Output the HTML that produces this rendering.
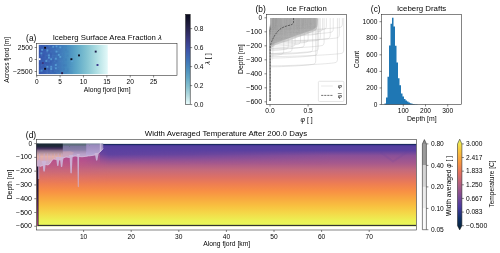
<!DOCTYPE html>
<html><head><meta charset="utf-8"><title>Iceberg figure</title>
<style>
html,body{margin:0;padding:0;background:#fff;}
body{width:500px;height:253px;overflow:hidden;}
svg{display:block;font-family:"Liberation Sans",sans-serif;}
</style></head><body>
<svg width="500" height="253" viewBox="0 0 500 253">
<defs>
<linearGradient id="gIce" x1="0" y1="0" x2="1" y2="0">
<stop offset="0" stop-color="#3556ae"/>
<stop offset="0.12" stop-color="#3a62b4"/>
<stop offset="0.25" stop-color="#3d70b8"/>
<stop offset="0.40" stop-color="#4488be"/>
<stop offset="0.55" stop-color="#5ea8c8"/>
<stop offset="0.70" stop-color="#84c4d2"/>
<stop offset="0.85" stop-color="#b2e0e4"/>
<stop offset="1" stop-color="#e4f9f9"/>
</linearGradient>
<linearGradient id="gIceCB" x1="0" y1="0" x2="0" y2="1">
<stop offset="0" stop-color="#08091c"/>
<stop offset="0.10" stop-color="#1d1b3a"/>
<stop offset="0.20" stop-color="#2f2b5f"/>
<stop offset="0.30" stop-color="#3b3d88"/>
<stop offset="0.40" stop-color="#3e55a9"/>
<stop offset="0.50" stop-color="#3e70b5"/>
<stop offset="0.60" stop-color="#4a8cbc"/>
<stop offset="0.70" stop-color="#62a6c5"/>
<stop offset="0.80" stop-color="#85c0cf"/>
<stop offset="0.90" stop-color="#b5dbe0"/>
<stop offset="1" stop-color="#eafdfd"/>
</linearGradient>
<linearGradient id="gTemp" x1="0" y1="0" x2="0" y2="1">
<stop offset="0" stop-color="#e8fa5b"/>
<stop offset="0.12" stop-color="#f9c73f"/>
<stop offset="0.25" stop-color="#f8993f"/>
<stop offset="0.37" stop-color="#e4705e"/>
<stop offset="0.50" stop-color="#b15f82"/>
<stop offset="0.62" stop-color="#804c93"/>
<stop offset="0.75" stop-color="#47399f"/>
<stop offset="0.87" stop-color="#0f3068"/>
<stop offset="1" stop-color="#042333"/>
</linearGradient>
<linearGradient id="gField" gradientUnits="userSpaceOnUse" x1="0" y1="143.6" x2="0" y2="225.6">
</linearGradient>
</defs>
<rect width="500" height="253" fill="#fff"/>

<rect x="38.8" y="44.9" width="69.00" height="29.20" fill="url(#gIce)"/>
<rect x="38.80" y="44.90" width="1.87" height="1.95" fill="#6aa8d8" opacity="0.14"/>
<rect x="38.80" y="50.74" width="1.87" height="1.95" fill="#2a3c98" opacity="0.05"/>
<rect x="38.80" y="52.69" width="1.87" height="1.95" fill="#2a3c98" opacity="0.09"/>
<rect x="38.80" y="62.42" width="1.87" height="1.95" fill="#2a3c98" opacity="0.16"/>
<rect x="38.80" y="70.21" width="1.87" height="1.95" fill="#6aa8d8" opacity="0.18"/>
<rect x="38.80" y="72.16" width="1.87" height="1.95" fill="#2a3c98" opacity="0.06"/>
<rect x="40.67" y="54.63" width="1.87" height="1.95" fill="#6aa8d8" opacity="0.18"/>
<rect x="40.67" y="60.48" width="1.87" height="1.95" fill="#6aa8d8" opacity="0.07"/>
<rect x="40.67" y="64.37" width="1.87" height="1.95" fill="#6aa8d8" opacity="0.15"/>
<rect x="40.67" y="68.26" width="1.87" height="1.95" fill="#6aa8d8" opacity="0.10"/>
<rect x="42.54" y="54.63" width="1.87" height="1.95" fill="#2a3c98" opacity="0.18"/>
<rect x="42.54" y="62.42" width="1.87" height="1.95" fill="#6aa8d8" opacity="0.17"/>
<rect x="42.54" y="64.37" width="1.87" height="1.95" fill="#2a3c98" opacity="0.06"/>
<rect x="42.54" y="68.26" width="1.87" height="1.95" fill="#6aa8d8" opacity="0.17"/>
<rect x="42.54" y="70.21" width="1.87" height="1.95" fill="#2a3c98" opacity="0.09"/>
<rect x="44.41" y="44.90" width="1.87" height="1.95" fill="#6aa8d8" opacity="0.13"/>
<rect x="44.41" y="48.79" width="1.87" height="1.95" fill="#2a3c98" opacity="0.17"/>
<rect x="44.41" y="54.63" width="1.87" height="1.95" fill="#6aa8d8" opacity="0.05"/>
<rect x="44.41" y="56.58" width="1.87" height="1.95" fill="#6aa8d8" opacity="0.07"/>
<rect x="44.41" y="60.48" width="1.87" height="1.95" fill="#2a3c98" opacity="0.05"/>
<rect x="44.41" y="62.42" width="1.87" height="1.95" fill="#2a3c98" opacity="0.18"/>
<rect x="44.41" y="64.37" width="1.87" height="1.95" fill="#6aa8d8" opacity="0.11"/>
<rect x="46.28" y="48.79" width="1.87" height="1.95" fill="#6aa8d8" opacity="0.14"/>
<rect x="46.28" y="50.74" width="1.87" height="1.95" fill="#6aa8d8" opacity="0.18"/>
<rect x="46.28" y="54.63" width="1.87" height="1.95" fill="#6aa8d8" opacity="0.10"/>
<rect x="46.28" y="56.58" width="1.87" height="1.95" fill="#2a3c98" opacity="0.13"/>
<rect x="46.28" y="58.53" width="1.87" height="1.95" fill="#6aa8d8" opacity="0.13"/>
<rect x="46.28" y="62.42" width="1.87" height="1.95" fill="#2a3c98" opacity="0.14"/>
<rect x="46.28" y="64.37" width="1.87" height="1.95" fill="#2a3c98" opacity="0.05"/>
<rect x="46.28" y="68.26" width="1.87" height="1.95" fill="#6aa8d8" opacity="0.10"/>
<rect x="46.28" y="70.21" width="1.87" height="1.95" fill="#6aa8d8" opacity="0.09"/>
<rect x="46.28" y="72.16" width="1.87" height="1.95" fill="#6aa8d8" opacity="0.12"/>
<rect x="48.15" y="44.90" width="1.87" height="1.95" fill="#6aa8d8" opacity="0.14"/>
<rect x="48.15" y="50.74" width="1.87" height="1.95" fill="#2a3c98" opacity="0.07"/>
<rect x="48.15" y="52.69" width="1.87" height="1.95" fill="#6aa8d8" opacity="0.06"/>
<rect x="48.15" y="56.58" width="1.87" height="1.95" fill="#6aa8d8" opacity="0.08"/>
<rect x="48.15" y="60.48" width="1.87" height="1.95" fill="#6aa8d8" opacity="0.15"/>
<rect x="48.15" y="62.42" width="1.87" height="1.95" fill="#2a3c98" opacity="0.12"/>
<rect x="48.15" y="66.32" width="1.87" height="1.95" fill="#6aa8d8" opacity="0.05"/>
<rect x="48.15" y="68.26" width="1.87" height="1.95" fill="#2a3c98" opacity="0.14"/>
<rect x="48.15" y="70.21" width="1.87" height="1.95" fill="#2a3c98" opacity="0.08"/>
<rect x="50.02" y="46.85" width="1.87" height="1.95" fill="#6aa8d8" opacity="0.05"/>
<rect x="50.02" y="50.74" width="1.87" height="1.95" fill="#6aa8d8" opacity="0.08"/>
<rect x="50.02" y="52.69" width="1.87" height="1.95" fill="#2a3c98" opacity="0.09"/>
<rect x="50.02" y="54.63" width="1.87" height="1.95" fill="#2a3c98" opacity="0.04"/>
<rect x="50.02" y="60.48" width="1.87" height="1.95" fill="#2a3c98" opacity="0.15"/>
<rect x="50.02" y="62.42" width="1.87" height="1.95" fill="#2a3c98" opacity="0.13"/>
<rect x="50.02" y="68.26" width="1.87" height="1.95" fill="#6aa8d8" opacity="0.08"/>
<rect x="50.02" y="70.21" width="1.87" height="1.95" fill="#6aa8d8" opacity="0.11"/>
<rect x="51.89" y="44.90" width="1.87" height="1.95" fill="#2a3c98" opacity="0.14"/>
<rect x="51.89" y="54.63" width="1.87" height="1.95" fill="#6aa8d8" opacity="0.12"/>
<rect x="51.89" y="56.58" width="1.87" height="1.95" fill="#6aa8d8" opacity="0.11"/>
<rect x="51.89" y="58.53" width="1.87" height="1.95" fill="#2a3c98" opacity="0.14"/>
<rect x="51.89" y="60.48" width="1.87" height="1.95" fill="#2a3c98" opacity="0.06"/>
<rect x="51.89" y="66.32" width="1.87" height="1.95" fill="#6aa8d8" opacity="0.06"/>
<rect x="51.89" y="70.21" width="1.87" height="1.95" fill="#2a3c98" opacity="0.13"/>
<rect x="53.76" y="46.85" width="1.87" height="1.95" fill="#2a3c98" opacity="0.10"/>
<rect x="53.76" y="48.79" width="1.87" height="1.95" fill="#6aa8d8" opacity="0.06"/>
<rect x="53.76" y="52.69" width="1.87" height="1.95" fill="#2a3c98" opacity="0.08"/>
<rect x="53.76" y="54.63" width="1.87" height="1.95" fill="#6aa8d8" opacity="0.04"/>
<rect x="53.76" y="56.58" width="1.87" height="1.95" fill="#2a3c98" opacity="0.04"/>
<rect x="53.76" y="60.48" width="1.87" height="1.95" fill="#6aa8d8" opacity="0.09"/>
<rect x="53.76" y="62.42" width="1.87" height="1.95" fill="#2a3c98" opacity="0.07"/>
<rect x="53.76" y="66.32" width="1.87" height="1.95" fill="#6aa8d8" opacity="0.05"/>
<rect x="53.76" y="68.26" width="1.87" height="1.95" fill="#2a3c98" opacity="0.09"/>
<rect x="53.76" y="70.21" width="1.87" height="1.95" fill="#6aa8d8" opacity="0.04"/>
<rect x="53.76" y="72.16" width="1.87" height="1.95" fill="#2a3c98" opacity="0.10"/>
<rect x="55.63" y="44.90" width="1.87" height="1.95" fill="#2a3c98" opacity="0.11"/>
<rect x="55.63" y="46.85" width="1.87" height="1.95" fill="#6aa8d8" opacity="0.07"/>
<rect x="55.63" y="50.74" width="1.87" height="1.95" fill="#6aa8d8" opacity="0.10"/>
<rect x="55.63" y="52.69" width="1.87" height="1.95" fill="#2a3c98" opacity="0.08"/>
<rect x="55.63" y="54.63" width="1.87" height="1.95" fill="#6aa8d8" opacity="0.07"/>
<rect x="55.63" y="60.48" width="1.87" height="1.95" fill="#2a3c98" opacity="0.12"/>
<rect x="55.63" y="62.42" width="1.87" height="1.95" fill="#6aa8d8" opacity="0.08"/>
<rect x="57.50" y="48.79" width="1.87" height="1.95" fill="#6aa8d8" opacity="0.08"/>
<rect x="57.50" y="50.74" width="1.87" height="1.95" fill="#6aa8d8" opacity="0.10"/>
<rect x="57.50" y="52.69" width="1.87" height="1.95" fill="#2a3c98" opacity="0.04"/>
<rect x="57.50" y="54.63" width="1.87" height="1.95" fill="#2a3c98" opacity="0.03"/>
<rect x="57.50" y="56.58" width="1.87" height="1.95" fill="#2a3c98" opacity="0.11"/>
<rect x="57.50" y="66.32" width="1.87" height="1.95" fill="#6aa8d8" opacity="0.10"/>
<rect x="57.50" y="70.21" width="1.87" height="1.95" fill="#2a3c98" opacity="0.10"/>
<rect x="57.50" y="72.16" width="1.87" height="1.95" fill="#6aa8d8" opacity="0.06"/>
<rect x="59.37" y="46.85" width="1.87" height="1.95" fill="#6aa8d8" opacity="0.04"/>
<rect x="59.37" y="52.69" width="1.87" height="1.95" fill="#6aa8d8" opacity="0.06"/>
<rect x="59.37" y="54.63" width="1.87" height="1.95" fill="#6aa8d8" opacity="0.06"/>
<rect x="59.37" y="60.48" width="1.87" height="1.95" fill="#6aa8d8" opacity="0.09"/>
<rect x="61.24" y="46.85" width="1.87" height="1.95" fill="#2a3c98" opacity="0.03"/>
<rect x="61.24" y="52.69" width="1.87" height="1.95" fill="#6aa8d8" opacity="0.08"/>
<rect x="61.24" y="54.63" width="1.87" height="1.95" fill="#6aa8d8" opacity="0.04"/>
<rect x="61.24" y="56.58" width="1.87" height="1.95" fill="#2a3c98" opacity="0.04"/>
<rect x="61.24" y="60.48" width="1.87" height="1.95" fill="#6aa8d8" opacity="0.08"/>
<rect x="61.24" y="66.32" width="1.87" height="1.95" fill="#6aa8d8" opacity="0.04"/>
<rect x="61.24" y="70.21" width="1.87" height="1.95" fill="#6aa8d8" opacity="0.04"/>
<rect x="61.24" y="72.16" width="1.87" height="1.95" fill="#6aa8d8" opacity="0.08"/>
<rect x="63.11" y="64.37" width="1.87" height="1.95" fill="#2a3c98" opacity="0.07"/>
<rect x="63.11" y="68.26" width="1.87" height="1.95" fill="#2a3c98" opacity="0.04"/>
<rect x="64.98" y="46.85" width="1.87" height="1.95" fill="#6aa8d8" opacity="0.03"/>
<rect x="64.98" y="48.79" width="1.87" height="1.95" fill="#2a3c98" opacity="0.06"/>
<rect x="64.98" y="52.69" width="1.87" height="1.95" fill="#6aa8d8" opacity="0.07"/>
<rect x="64.98" y="54.63" width="1.87" height="1.95" fill="#6aa8d8" opacity="0.06"/>
<rect x="64.98" y="56.58" width="1.87" height="1.95" fill="#6aa8d8" opacity="0.07"/>
<rect x="64.98" y="58.53" width="1.87" height="1.95" fill="#2a3c98" opacity="0.05"/>
<rect x="64.98" y="60.48" width="1.87" height="1.95" fill="#6aa8d8" opacity="0.04"/>
<rect x="64.98" y="64.37" width="1.87" height="1.95" fill="#2a3c98" opacity="0.05"/>
<rect x="64.98" y="66.32" width="1.87" height="1.95" fill="#6aa8d8" opacity="0.05"/>
<rect x="64.98" y="68.26" width="1.87" height="1.95" fill="#6aa8d8" opacity="0.06"/>
<rect x="66.85" y="44.90" width="1.87" height="1.95" fill="#6aa8d8" opacity="0.07"/>
<rect x="66.85" y="50.74" width="1.87" height="1.95" fill="#2a3c98" opacity="0.05"/>
<rect x="66.85" y="54.63" width="1.87" height="1.95" fill="#2a3c98" opacity="0.06"/>
<rect x="66.85" y="60.48" width="1.87" height="1.95" fill="#6aa8d8" opacity="0.04"/>
<rect x="66.85" y="68.26" width="1.87" height="1.95" fill="#2a3c98" opacity="0.05"/>
<rect x="66.85" y="70.21" width="1.87" height="1.95" fill="#2a3c98" opacity="0.06"/>
<rect x="66.85" y="72.16" width="1.87" height="1.95" fill="#6aa8d8" opacity="0.07"/>
<rect x="68.72" y="44.90" width="1.87" height="1.95" fill="#6aa8d8" opacity="0.05"/>
<rect x="68.72" y="52.69" width="1.87" height="1.95" fill="#6aa8d8" opacity="0.02"/>
<rect x="68.72" y="62.42" width="1.87" height="1.95" fill="#6aa8d8" opacity="0.03"/>
<rect x="68.72" y="66.32" width="1.87" height="1.95" fill="#6aa8d8" opacity="0.04"/>
<rect x="68.72" y="70.21" width="1.87" height="1.95" fill="#6aa8d8" opacity="0.03"/>
<rect x="70.59" y="46.85" width="1.87" height="1.95" fill="#6aa8d8" opacity="0.04"/>
<rect x="70.59" y="48.79" width="1.87" height="1.95" fill="#6aa8d8" opacity="0.02"/>
<rect x="70.59" y="54.63" width="1.87" height="1.95" fill="#6aa8d8" opacity="0.02"/>
<rect x="70.59" y="64.37" width="1.87" height="1.95" fill="#6aa8d8" opacity="0.03"/>
<rect x="70.59" y="70.21" width="1.87" height="1.95" fill="#2a3c98" opacity="0.02"/>
<rect x="70.59" y="72.16" width="1.87" height="1.95" fill="#2a3c98" opacity="0.04"/>
<rect x="41.15" y="48.85" width="1.9" height="1.9" fill="#5eaadc" opacity="0.72"/>
<rect x="40.35" y="52.45" width="1.9" height="1.9" fill="#5eaadc" opacity="0.72"/>
<rect x="46.45" y="49.45" width="1.9" height="1.9" fill="#5eaadc" opacity="0.72"/>
<rect x="52.25" y="45.75" width="1.9" height="1.9" fill="#5eaadc" opacity="0.72"/>
<rect x="55.55" y="45.35" width="1.9" height="1.9" fill="#5eaadc" opacity="0.72"/>
<rect x="55.55" y="50.65" width="1.9" height="1.9" fill="#5eaadc" opacity="0.72"/>
<rect x="59.35" y="46.35" width="1.9" height="1.9" fill="#5eaadc" opacity="0.72"/>
<rect x="47.95" y="54.45" width="1.9" height="1.9" fill="#5eaadc" opacity="0.72"/>
<rect x="59.35" y="55.95" width="1.9" height="1.9" fill="#5eaadc" opacity="0.72"/>
<rect x="47.95" y="56.75" width="1.9" height="1.9" fill="#5eaadc" opacity="0.72"/>
<rect x="50.25" y="58.25" width="1.9" height="1.9" fill="#5eaadc" opacity="0.72"/>
<rect x="54.85" y="57.75" width="1.9" height="1.9" fill="#5eaadc" opacity="0.72"/>
<rect x="45.35" y="60.05" width="1.9" height="1.9" fill="#5eaadc" opacity="0.72"/>
<rect x="57.85" y="53.95" width="1.9" height="1.9" fill="#5eaadc" opacity="0.72"/>
<rect x="50.25" y="65.85" width="1.9" height="1.9" fill="#5eaadc" opacity="0.72"/>
<rect x="50.25" y="68.05" width="1.9" height="1.9" fill="#5eaadc" opacity="0.72"/>
<rect x="46.45" y="65.85" width="1.9" height="1.9" fill="#5eaadc" opacity="0.72"/>
<rect x="40.65" y="69.65" width="1.9" height="1.9" fill="#5eaadc" opacity="0.72"/>
<rect x="54.85" y="67.35" width="1.9" height="1.9" fill="#5eaadc" opacity="0.72"/>
<rect x="54.85" y="64.05" width="1.9" height="1.9" fill="#5eaadc" opacity="0.72"/>
<rect x="71.05" y="60.05" width="1.9" height="1.9" fill="#5eaadc" opacity="0.72"/>
<rect x="41.9" y="62.1" width="1.9" height="1.9" fill="#3a2a70" opacity="0.8"/>
<rect x="38.8" y="58.2" width="1.7" height="1.9" fill="#fff"/>
<rect x="44.15" y="46.85" width="1.9" height="1.9" fill="#0a0a18"/>
<rect x="44.15" y="67.85" width="1.9" height="1.9" fill="#0a0a18"/>
<rect x="70.45" y="58.25" width="1.9" height="1.9" fill="#0a0a18"/>
<rect x="78.05" y="54.45" width="1.9" height="1.9" fill="#0d0d22"/>
<rect x="94.75" y="50.65" width="1.9" height="1.9" fill="#1c1c4a"/>
<rect x="96.55" y="64.05" width="1.9" height="1.9" fill="#35358c"/>
<rect x="61.15" y="72.20" width="1.9" height="1.9" fill="#2a1c4c"/>
<rect x="36.70" y="43.50" width="140.30" height="31.95" fill="none" stroke="#222" stroke-width="0.55"/>
<line x1="36.70" y1="75.45" x2="36.70" y2="77.45" stroke="#222" stroke-width="0.55"/>
<text opacity="0.99" x="36.70" y="83.60" font-size="6.50" text-anchor="middle" fill="#000">0</text>
<line x1="60.08" y1="75.45" x2="60.08" y2="77.45" stroke="#222" stroke-width="0.55"/>
<text opacity="0.99" x="60.08" y="83.60" font-size="6.50" text-anchor="middle" fill="#000">5</text>
<line x1="83.46" y1="75.45" x2="83.46" y2="77.45" stroke="#222" stroke-width="0.55"/>
<text opacity="0.99" x="83.46" y="83.60" font-size="6.50" text-anchor="middle" fill="#000" textLength="7.38" lengthAdjust="spacingAndGlyphs">10</text>
<line x1="106.84" y1="75.45" x2="106.84" y2="77.45" stroke="#222" stroke-width="0.55"/>
<text opacity="0.99" x="106.84" y="83.60" font-size="6.50" text-anchor="middle" fill="#000" textLength="7.38" lengthAdjust="spacingAndGlyphs">15</text>
<line x1="130.22" y1="75.45" x2="130.22" y2="77.45" stroke="#222" stroke-width="0.55"/>
<text opacity="0.99" x="130.22" y="83.60" font-size="6.50" text-anchor="middle" fill="#000" textLength="7.38" lengthAdjust="spacingAndGlyphs">20</text>
<line x1="153.60" y1="75.45" x2="153.60" y2="77.45" stroke="#222" stroke-width="0.55"/>
<text opacity="0.99" x="153.60" y="83.60" font-size="6.50" text-anchor="middle" fill="#000" textLength="7.38" lengthAdjust="spacingAndGlyphs">25</text>
<line x1="34.70" y1="47.50" x2="36.70" y2="47.50" stroke="#222" stroke-width="0.55"/>
<text opacity="0.99" x="32.60" y="49.60" font-size="6.50" text-anchor="end" fill="#000" textLength="14.76" lengthAdjust="spacingAndGlyphs">2500</text>
<line x1="34.70" y1="59.50" x2="36.70" y2="59.50" stroke="#222" stroke-width="0.55"/>
<text opacity="0.99" x="32.60" y="61.60" font-size="6.50" text-anchor="end" fill="#000">0</text>
<line x1="34.70" y1="71.50" x2="36.70" y2="71.50" stroke="#222" stroke-width="0.55"/>
<text opacity="0.99" x="32.60" y="73.60" font-size="6.50" text-anchor="end" fill="#000" textLength="19.62" lengthAdjust="spacingAndGlyphs">−2500</text>
<text opacity="0.99" x="107.10" y="92.00" font-size="6.50" text-anchor="middle" fill="#000" textLength="46.87" lengthAdjust="spacingAndGlyphs">Along fjord [km]</text>
<text opacity="0.99" x="9.30" y="59.80" font-size="6.50" text-anchor="middle" fill="#000" textLength="45.93" lengthAdjust="spacingAndGlyphs" transform="rotate(-90 9.30 59.80)">Across fjord [m]</text>
<text opacity="0.99" x="107.30" y="39.70" font-size="7.80" text-anchor="middle" fill="#000" textLength="109.30" lengthAdjust="spacingAndGlyphs">Iceberg Surface Area Fraction <tspan font-style="italic">λ</tspan></text>
<text opacity="0.99" x="36.30" y="41.20" font-size="8.18" text-anchor="end" fill="#000" textLength="10.17" lengthAdjust="spacingAndGlyphs">(a)</text>
<rect x="185.6" y="14.3" width="4.60" height="90.25" fill="url(#gIceCB)" stroke="#222" stroke-width="0.55"/>
<line x1="190.20" y1="104.55" x2="192.20" y2="104.55" stroke="#222" stroke-width="0.55"/>
<text opacity="0.99" x="194.30" y="106.65" font-size="6.50" text-anchor="start" fill="#000" textLength="9.22" lengthAdjust="spacingAndGlyphs">0.0</text>
<line x1="190.20" y1="85.60" x2="192.20" y2="85.60" stroke="#222" stroke-width="0.55"/>
<text opacity="0.99" x="194.30" y="87.70" font-size="6.50" text-anchor="start" fill="#000" textLength="9.22" lengthAdjust="spacingAndGlyphs">0.2</text>
<line x1="190.20" y1="66.60" x2="192.20" y2="66.60" stroke="#222" stroke-width="0.55"/>
<text opacity="0.99" x="194.30" y="68.70" font-size="6.50" text-anchor="start" fill="#000" textLength="9.22" lengthAdjust="spacingAndGlyphs">0.4</text>
<line x1="190.20" y1="47.60" x2="192.20" y2="47.60" stroke="#222" stroke-width="0.55"/>
<text opacity="0.99" x="194.30" y="49.70" font-size="6.50" text-anchor="start" fill="#000" textLength="9.22" lengthAdjust="spacingAndGlyphs">0.6</text>
<line x1="190.20" y1="28.60" x2="192.20" y2="28.60" stroke="#222" stroke-width="0.55"/>
<text opacity="0.99" x="194.30" y="30.70" font-size="6.50" text-anchor="start" fill="#000" textLength="9.22" lengthAdjust="spacingAndGlyphs">0.8</text>
<text opacity="0.99" x="209.50" y="59.00" font-size="6.50" text-anchor="middle" fill="#000" textLength="11.65" lengthAdjust="spacingAndGlyphs" transform="rotate(-90 209.50 59.00)"><tspan font-style="italic">λ</tspan> [ ]</text>
<g fill="none">
<path d="M270.1 18.0H317.0V28.8C316.5 30.2 315 31 313 31.8L305.5 34.7L298 37.3L290 40.2L283 42.6L276 44.8L272 47.2L270.1 50.5Z" fill="#a7a7a7" stroke="none" opacity="0.5"/>
<path d="M270.1 18.0H316.6V26.5C315.5 28.5 313 29.7 310 30.8L303 33.2L296 35.6L288 38.4L281 40.9L275 43.2L271.5 45.5L270.1 47Z" fill="#9c9c9c" stroke="none" opacity="0.72"/>
<path d="M270.00 100.40V32.44C290.30 32.20 311.11 30.64 313.86 29.53Q315.11 28.53 315.11 26.53V18.10" stroke="#909090" stroke-width="0.3" stroke-opacity="0.11"/>
<path d="M270.00 100.40V32.16C283.01 31.98 294.91 30.84 297.66 29.90Q298.91 28.90 298.91 26.90V18.10" stroke="#909090" stroke-width="0.3" stroke-opacity="0.11"/>
<path d="M270.00 100.40V28.00C287.12 27.79 304.04 26.41 306.79 25.38Q308.04 24.38 308.04 22.38V18.10" stroke="#909090" stroke-width="0.3" stroke-opacity="0.11"/>
<path d="M270.00 100.40V35.97C275.56 35.86 278.35 35.15 281.10 34.37Q282.35 33.37 282.35 31.37V18.10" stroke="#909090" stroke-width="0.3" stroke-opacity="0.11"/>
<path d="M270.00 100.40V35.50C287.53 35.29 304.95 33.88 307.70 32.84Q308.95 31.84 308.95 29.84V18.10" stroke="#909090" stroke-width="0.3" stroke-opacity="0.11"/>
<path d="M270.00 100.40V33.30C271.29 33.23 271.73 32.76 272.52 32.44Q272.88 32.15 272.88 31.58V18.10" stroke="#909090" stroke-width="0.3" stroke-opacity="0.11"/>
<path d="M270.00 100.40V32.43C274.67 32.33 276.39 31.67 279.14 30.91Q280.39 29.91 280.39 27.91V18.10" stroke="#909090" stroke-width="0.3" stroke-opacity="0.11"/>
<path d="M270.00 100.40V32.67C288.16 32.45 306.36 31.01 309.11 29.95Q310.36 28.95 310.36 26.95V18.10" stroke="#909090" stroke-width="0.3" stroke-opacity="0.11"/>
<path d="M270.00 100.40V33.19C280.46 33.03 289.24 32.04 291.99 31.16Q293.24 30.16 293.24 28.16V18.10" stroke="#909090" stroke-width="0.3" stroke-opacity="0.11"/>
<path d="M270.00 100.40V35.63C275.29 35.52 277.75 34.83 280.50 34.06Q281.75 33.06 281.75 31.06V18.10" stroke="#909090" stroke-width="0.3" stroke-opacity="0.11"/>
<path d="M270.00 100.40V51.19C271.24 51.12 271.66 50.65 272.42 50.34Q272.77 50.06 272.77 49.51V18.10" stroke="#909090" stroke-width="0.3" stroke-opacity="0.11"/>
<path d="M270.00 100.40V28.56C272.69 28.47 273.59 27.93 275.23 27.42Q275.98 26.82 275.98 25.62V18.10" stroke="#909090" stroke-width="0.3" stroke-opacity="0.11"/>
<path d="M270.00 100.40V38.20C281.94 38.03 292.53 36.95 295.28 36.04Q296.53 35.04 296.53 33.04V18.10" stroke="#909090" stroke-width="0.3" stroke-opacity="0.11"/>
<path d="M270.00 100.40V23.48C281.18 23.32 291.90 22.29 293.93 21.52Q294.85 20.78 294.85 19.31V18.10" stroke="#909090" stroke-width="0.3" stroke-opacity="0.11"/>
<path d="M270.00 100.40V25.72C290.92 25.48 312.55 23.88 315.25 22.77Q316.48 21.79 316.48 19.82V18.10" stroke="#909090" stroke-width="0.3" stroke-opacity="0.11"/>
<path d="M270.00 100.40V30.10C278.49 29.97 284.86 29.09 287.61 28.25Q288.86 27.25 288.86 25.25V18.10" stroke="#909090" stroke-width="0.3" stroke-opacity="0.11"/>
<path d="M270.00 100.40V27.71C273.54 27.62 274.72 27.02 276.88 26.40Q277.86 25.61 277.86 24.04V18.10" stroke="#909090" stroke-width="0.3" stroke-opacity="0.11"/>
<path d="M270.00 100.40V27.07C282.46 26.90 293.69 25.79 296.44 24.86Q297.69 23.86 297.69 21.86V18.10" stroke="#909090" stroke-width="0.3" stroke-opacity="0.11"/>
<path d="M270.00 100.40V24.25C274.37 24.15 275.83 23.51 278.51 22.77Q279.72 21.80 279.72 19.86V18.10" stroke="#909090" stroke-width="0.3" stroke-opacity="0.11"/>
<path d="M270.00 100.40V34.22C278.34 34.09 284.52 33.21 287.27 32.38Q288.52 31.38 288.52 29.38V18.10" stroke="#909090" stroke-width="0.3" stroke-opacity="0.11"/>
<path d="M270.00 100.40V30.12C291.43 29.87 313.62 28.24 316.38 27.12Q317.62 26.12 317.62 24.12V18.10" stroke="#909090" stroke-width="0.3" stroke-opacity="0.11"/>
<path d="M270.00 100.40V38.14C282.56 37.97 293.90 36.85 296.65 35.92Q297.90 34.92 297.90 32.92V18.10" stroke="#909090" stroke-width="0.3" stroke-opacity="0.11"/>
<path d="M270.00 100.40V29.50C291.43 29.25 313.62 27.63 316.38 26.50Q317.62 25.50 317.62 23.50V18.10" stroke="#909090" stroke-width="0.3" stroke-opacity="0.11"/>
<path d="M270.00 100.40V35.05C288.28 34.82 306.62 33.38 309.37 32.32Q310.62 31.32 310.62 29.32V18.10" stroke="#909090" stroke-width="0.3" stroke-opacity="0.11"/>
<path d="M270.00 100.40V29.99C289.38 29.76 309.06 28.25 311.81 27.17Q313.06 26.17 313.06 24.17V18.10" stroke="#909090" stroke-width="0.3" stroke-opacity="0.11"/>
<path d="M270.00 100.40V29.66C272.67 29.58 273.56 29.03 275.19 28.53Q275.93 27.94 275.93 26.75V18.10" stroke="#909090" stroke-width="0.3" stroke-opacity="0.11"/>
<path d="M270.00 100.40V25.27C277.24 25.15 282.08 24.34 284.83 23.53Q286.08 22.53 286.08 20.53V18.10" stroke="#909090" stroke-width="0.3" stroke-opacity="0.11"/>
<path d="M270.00 100.40V34.25C278.91 34.12 285.80 33.21 288.55 32.36Q289.80 31.36 289.80 29.36V18.10" stroke="#909090" stroke-width="0.3" stroke-opacity="0.11"/>
<path d="M270.00 100.40V45.09C273.02 45.01 274.03 44.44 275.88 43.89Q276.72 43.22 276.72 41.87V18.10" stroke="#909090" stroke-width="0.3" stroke-opacity="0.11"/>
<path d="M270.00 100.40V37.47C273.00 37.38 274.00 36.82 275.84 36.27Q276.67 35.60 276.67 34.27V18.10" stroke="#909090" stroke-width="0.3" stroke-opacity="0.11"/>
<path d="M270.00 100.40V30.48C288.04 30.26 306.09 28.83 308.84 27.78Q310.09 26.78 310.09 24.78V18.10" stroke="#909090" stroke-width="0.3" stroke-opacity="0.11"/>
<path d="M270.00 100.40V33.92C272.81 33.84 273.74 33.28 275.46 32.76Q276.24 32.13 276.24 30.89V18.10" stroke="#909090" stroke-width="0.3" stroke-opacity="0.11"/>
<path d="M270.00 100.40V25.79C277.59 25.66 282.87 24.83 285.62 24.01Q286.87 23.01 286.87 21.01V18.10" stroke="#909090" stroke-width="0.3" stroke-opacity="0.11"/>
<path d="M270.00 100.40V43.34C272.67 43.26 273.55 42.72 275.18 42.21Q275.92 41.62 275.92 40.43V18.10" stroke="#909090" stroke-width="0.3" stroke-opacity="0.11"/>
<path d="M270.00 100.40V24.08C272.79 23.99 273.71 23.44 275.42 22.92Q276.19 22.30 276.19 21.06V18.10" stroke="#909090" stroke-width="0.3" stroke-opacity="0.11"/>
<path d="M270.00 100.40V28.57C291.43 28.32 313.62 26.69 316.38 25.56Q317.62 24.56 317.62 22.56V18.10" stroke="#909090" stroke-width="0.3" stroke-opacity="0.11"/>
<path d="M270.00 100.40V34.95C287.01 34.74 303.80 33.36 306.55 32.33Q307.80 31.33 307.80 29.33V18.10" stroke="#909090" stroke-width="0.3" stroke-opacity="0.11"/>
<path d="M270.00 100.40V28.26C272.48 28.18 273.31 27.65 274.82 27.17Q275.51 26.62 275.51 25.51V18.10" stroke="#909090" stroke-width="0.3" stroke-opacity="0.11"/>
<path d="M270.00 100.40V28.71C285.26 28.51 299.91 27.24 302.66 26.25Q303.91 25.25 303.91 23.25V18.10" stroke="#909090" stroke-width="0.3" stroke-opacity="0.11"/>
<path d="M270.00 100.40V28.82C291.43 28.57 313.62 26.94 316.38 25.82Q317.62 24.82 317.62 22.82V18.10" stroke="#909090" stroke-width="0.3" stroke-opacity="0.11"/>
<path d="M270.00 100.40V37.62C272.80 37.54 273.73 36.98 275.44 36.46Q276.22 35.84 276.22 34.60V18.10" stroke="#909090" stroke-width="0.3" stroke-opacity="0.11"/>
<path d="M270.00 100.40V35.82C282.63 35.64 294.06 34.52 296.81 33.59Q298.06 32.59 298.06 30.59V18.10" stroke="#909090" stroke-width="0.3" stroke-opacity="0.11"/>
<path d="M270.00 100.40V26.62C289.86 26.39 310.13 24.85 312.88 23.76Q314.13 22.76 314.13 20.76V18.10" stroke="#909090" stroke-width="0.3" stroke-opacity="0.11"/>
<path d="M270.00 100.40V47.03C271.93 46.95 272.57 46.45 273.75 46.04Q274.29 45.61 274.29 44.76V18.10" stroke="#909090" stroke-width="0.3" stroke-opacity="0.11"/>
<path d="M270.00 100.40V29.55C291.43 29.30 313.62 27.67 316.38 26.55Q317.62 25.55 317.62 23.55V18.10" stroke="#909090" stroke-width="0.3" stroke-opacity="0.11"/>
<path d="M270.00 100.40V40.88C278.31 40.75 284.46 39.88 287.21 39.04Q288.46 38.04 288.46 36.04V18.10" stroke="#909090" stroke-width="0.3" stroke-opacity="0.11"/>
<path d="M270.00 100.40V44.39C273.79 44.29 275.05 43.69 277.37 43.03Q278.42 42.19 278.42 40.50V18.10" stroke="#909090" stroke-width="0.3" stroke-opacity="0.11"/>
<path d="M270.00 100.40V30.42C284.87 30.23 299.04 28.98 301.79 28.00Q303.04 27.00 303.04 25.00V18.10" stroke="#909090" stroke-width="0.3" stroke-opacity="0.11"/>
<path d="M270.00 100.40V25.72C291.43 25.47 313.73 23.84 316.41 22.73Q317.62 21.75 317.62 19.80V18.10" stroke="#909090" stroke-width="0.3" stroke-opacity="0.11"/>
<path d="M270.00 100.40V29.34C285.01 29.15 299.35 27.89 302.10 26.91Q303.35 25.91 303.35 23.91V18.10" stroke="#909090" stroke-width="0.3" stroke-opacity="0.11"/>
<path d="M270.00 100.40V28.68C273.00 28.59 274.00 28.03 275.84 27.48Q276.67 26.81 276.67 25.47V18.10" stroke="#909090" stroke-width="0.3" stroke-opacity="0.11"/>
<path d="M270.00 100.40V34.30C274.92 34.20 276.93 33.52 279.68 32.76Q280.93 31.76 280.93 29.76V18.10" stroke="#909090" stroke-width="0.3" stroke-opacity="0.11"/>
<path d="M270.00 100.40V37.28C279.48 37.13 287.06 36.20 289.81 35.33Q291.06 34.33 291.06 32.33V18.10" stroke="#909090" stroke-width="0.3" stroke-opacity="0.11"/>
<path d="M270.00 100.40V39.07C271.15 39.00 271.53 38.55 272.23 38.24Q272.55 37.99 272.55 37.48V18.10" stroke="#909090" stroke-width="0.3" stroke-opacity="0.11"/>
<path d="M270.00 100.40V27.20C276.20 27.09 279.79 26.34 282.54 25.55Q283.79 24.55 283.79 22.55V18.10" stroke="#909090" stroke-width="0.3" stroke-opacity="0.11"/>
<path d="M270.00 100.40V36.32C284.86 36.12 299.02 34.87 301.77 33.89Q303.02 32.89 303.02 30.89V18.10" stroke="#909090" stroke-width="0.3" stroke-opacity="0.11"/>
<path d="M270.00 100.40V27.85C275.97 27.73 279.28 27.00 282.03 26.22Q283.28 25.22 283.28 23.22V18.10" stroke="#909090" stroke-width="0.3" stroke-opacity="0.11"/>
<path d="M270.00 100.40V30.41C291.43 30.16 313.62 28.53 316.38 27.40Q317.62 26.40 317.62 24.40V18.10" stroke="#909090" stroke-width="0.3" stroke-opacity="0.11"/>
<path d="M270.00 100.40V40.42C276.62 40.30 280.72 39.52 283.47 38.73Q284.72 37.73 284.72 35.73V18.10" stroke="#909090" stroke-width="0.3" stroke-opacity="0.11"/>
<path d="M270.00 100.40V30.75C281.96 30.58 292.57 29.50 295.32 28.59Q296.57 27.59 296.57 25.59V18.10" stroke="#909090" stroke-width="0.3" stroke-opacity="0.11"/>
<path d="M270.00 100.40V30.21C281.21 30.05 290.91 29.01 293.66 28.11Q294.91 27.11 294.91 25.11V18.10" stroke="#909090" stroke-width="0.3" stroke-opacity="0.11"/>
<path d="M270.00 100.40V29.99C280.46 29.84 289.24 28.85 291.99 27.96Q293.24 26.96 293.24 24.96V18.10" stroke="#909090" stroke-width="0.3" stroke-opacity="0.11"/>
<path d="M270.00 100.40V35.05C276.11 34.94 279.57 34.20 282.32 33.41Q283.57 32.41 283.57 30.41V18.10" stroke="#909090" stroke-width="0.3" stroke-opacity="0.11"/>
<path d="M270.00 100.40V31.33C271.66 31.26 272.22 30.77 273.24 30.40Q273.70 30.03 273.70 29.29V18.10" stroke="#909090" stroke-width="0.3" stroke-opacity="0.11"/>
<path d="M270.00 100.40V38.18C274.78 38.07 276.62 37.41 279.37 36.65Q280.62 35.65 280.62 33.65V18.10" stroke="#909090" stroke-width="0.3" stroke-opacity="0.11"/>
<path d="M270.00 100.40V26.49C271.66 26.41 272.21 25.93 273.23 25.56Q273.69 25.19 273.69 24.45V18.10" stroke="#909090" stroke-width="0.3" stroke-opacity="0.11"/>
<path d="M270.00 100.40V37.22C272.87 37.14 273.83 36.58 275.59 36.05Q276.38 35.41 276.38 34.13V18.10" stroke="#909090" stroke-width="0.3" stroke-opacity="0.11"/>
<path d="M270.00 100.40V31.62C284.96 31.43 299.24 30.18 301.99 29.19Q303.24 28.19 303.24 26.19V18.10" stroke="#909090" stroke-width="0.3" stroke-opacity="0.11"/>
<path d="M270.00 100.40V35.07C278.81 34.93 285.58 34.04 288.33 33.19Q289.58 32.19 289.58 30.19V18.10" stroke="#909090" stroke-width="0.3" stroke-opacity="0.11"/>
<path d="M270.00 100.40V31.16C274.74 31.06 276.53 30.39 279.28 29.64Q280.53 28.64 280.53 26.64V18.10" stroke="#909090" stroke-width="0.3" stroke-opacity="0.11"/>
<path d="M270.00 100.40V30.11C287.33 29.89 304.52 28.50 307.27 27.47Q308.52 26.47 308.52 24.47V18.10" stroke="#909090" stroke-width="0.3" stroke-opacity="0.11"/>
<path d="M270.00 100.40V33.61C285.29 33.42 299.99 32.15 302.74 31.16Q303.99 30.16 303.99 28.16V18.10" stroke="#909090" stroke-width="0.3" stroke-opacity="0.11"/>
<path d="M270.00 100.40V29.26C291.43 29.01 313.62 27.39 316.38 26.26Q317.62 25.26 317.62 23.26V18.10" stroke="#909090" stroke-width="0.3" stroke-opacity="0.11"/>
<path d="M270.00 100.40V35.34C278.28 35.20 284.40 34.33 287.15 33.50Q288.40 32.50 288.40 30.50V18.10" stroke="#909090" stroke-width="0.3" stroke-opacity="0.11"/>
<path d="M270.00 100.40V57.54C271.29 57.47 271.72 57.01 272.50 56.68Q272.86 56.40 272.86 55.83V18.10" stroke="#909090" stroke-width="0.3" stroke-opacity="0.11"/>
<path d="M270.00 100.40V39.89C279.42 39.75 286.94 38.81 289.69 37.96Q290.94 36.96 290.94 34.96V18.10" stroke="#909090" stroke-width="0.3" stroke-opacity="0.11"/>
<path d="M270.00 100.40V43.99C274.26 43.89 275.68 43.26 278.28 42.54Q279.46 41.59 279.46 39.70V18.10" stroke="#909090" stroke-width="0.3" stroke-opacity="0.11"/>
<path d="M270.00 100.40V26.17C291.43 25.92 313.62 24.29 316.38 23.16Q317.62 22.16 317.62 20.16V18.10" stroke="#909090" stroke-width="0.3" stroke-opacity="0.11"/>
<path d="M270.00 100.40V38.31C273.55 38.21 274.74 37.62 276.91 36.99Q277.90 36.20 277.90 34.62V18.10" stroke="#909090" stroke-width="0.3" stroke-opacity="0.11"/>
<path d="M270.00 100.40V38.06C283.01 37.89 294.92 36.74 297.67 35.81Q298.92 34.81 298.92 32.81V18.10" stroke="#909090" stroke-width="0.3" stroke-opacity="0.11"/>
<path d="M270.00 100.40V38.85C271.94 38.77 272.59 38.27 273.77 37.86Q274.31 37.43 274.31 36.57V18.10" stroke="#909090" stroke-width="0.3" stroke-opacity="0.11"/>
<path d="M270.00 100.40V31.95C287.25 31.74 304.34 30.35 307.09 29.32Q308.34 28.32 308.34 26.32V18.10" stroke="#909090" stroke-width="0.3" stroke-opacity="0.11"/>
<path d="M270.00 100.40V33.08C286.97 32.87 303.72 31.50 306.47 30.47Q307.72 29.47 307.72 27.47V18.10" stroke="#909090" stroke-width="0.3" stroke-opacity="0.11"/>
<path d="M270.00 100.40V29.32C290.48 29.08 311.52 27.50 314.27 26.40Q315.52 25.40 315.52 23.40V18.10" stroke="#909090" stroke-width="0.3" stroke-opacity="0.11"/>
<path d="M270.00 100.40V29.20C283.46 29.02 295.92 27.85 298.67 26.90Q299.92 25.90 299.92 23.90V18.10" stroke="#909090" stroke-width="0.3" stroke-opacity="0.11"/>
<path d="M270.00 100.40V57.64C271.50 57.57 272.00 57.09 272.92 56.74Q273.34 56.41 273.34 55.74V18.10" stroke="#909090" stroke-width="0.3" stroke-opacity="0.11"/>
<path d="M270.00 100.40V45.01C274.58 44.91 276.18 44.26 278.93 43.50Q280.18 42.50 280.18 40.50V18.10" stroke="#909090" stroke-width="0.3" stroke-opacity="0.11"/>
<path d="M270.00 100.40V28.49C284.21 28.30 297.58 27.09 300.33 26.12Q301.58 25.12 301.58 23.12V18.10" stroke="#909090" stroke-width="0.3" stroke-opacity="0.11"/>
<path d="M270.00 100.40V27.26C287.35 27.05 304.55 25.65 307.30 24.62Q308.55 23.62 308.55 21.62V18.10" stroke="#909090" stroke-width="0.3" stroke-opacity="0.11"/>
<path d="M270.00 100.40V34.25C280.89 34.09 290.20 33.08 292.95 32.18Q294.20 31.18 294.20 29.18V18.10" stroke="#909090" stroke-width="0.3" stroke-opacity="0.11"/>
<path d="M270.00 100.40V30.73C290.43 30.49 311.40 28.92 314.15 27.82Q315.40 26.82 315.40 24.82V18.10" stroke="#909090" stroke-width="0.3" stroke-opacity="0.11"/>
<path d="M270.00 100.40V39.04C281.04 38.88 290.53 37.85 293.28 36.95Q294.53 35.95 294.53 33.95V18.10" stroke="#909090" stroke-width="0.3" stroke-opacity="0.11"/>
<path d="M270.00 100.40V46.98C271.60 46.91 272.14 46.43 273.12 46.06Q273.56 45.71 273.56 44.99V18.10" stroke="#909090" stroke-width="0.3" stroke-opacity="0.11"/>
<path d="M270.00 100.40V27.72C283.88 27.54 296.85 26.35 299.60 25.39Q300.85 24.39 300.85 22.39V18.10" stroke="#909090" stroke-width="0.3" stroke-opacity="0.11"/>
<path d="M270.00 100.40V34.51C288.60 34.29 307.33 32.82 310.08 31.76Q311.33 30.76 311.33 28.76V18.10" stroke="#909090" stroke-width="0.3" stroke-opacity="0.11"/>
<path d="M270.00 100.40V33.44C286.41 33.23 302.48 31.89 305.23 30.88Q306.48 29.88 306.48 27.88V18.10" stroke="#909090" stroke-width="0.3" stroke-opacity="0.11"/>
<path d="M270.00 100.40V34.22C283.41 34.04 295.80 32.88 298.55 31.93Q299.80 30.93 299.80 28.93V18.10" stroke="#909090" stroke-width="0.3" stroke-opacity="0.11"/>
<path d="M270.00 100.40V25.86C281.60 25.70 291.78 24.64 294.53 23.73Q295.78 22.73 295.78 20.73V18.10" stroke="#909090" stroke-width="0.3" stroke-opacity="0.11"/>
<path d="M270.00 100.40V28.25C274.10 28.15 275.47 27.53 277.98 26.83Q279.12 25.92 279.12 24.09V18.10" stroke="#909090" stroke-width="0.3" stroke-opacity="0.11"/>
<path d="M270.00 100.40V30.38C291.43 30.13 313.62 28.50 316.38 27.37Q317.62 26.37 317.62 24.37V18.10" stroke="#909090" stroke-width="0.3" stroke-opacity="0.11"/>
<path d="M270.00 100.40V31.78C274.85 31.68 276.78 31.01 279.53 30.25Q280.78 29.25 280.78 27.25V18.10" stroke="#909090" stroke-width="0.3" stroke-opacity="0.11"/>
<path d="M270.00 100.40V63.45C271.12 63.38 271.49 62.93 272.17 62.63Q272.48 62.38 272.48 61.89V18.10" stroke="#909090" stroke-width="0.3" stroke-opacity="0.11"/>
<path d="M270.00 100.40V29.74C287.40 29.53 304.67 28.13 307.42 27.10Q308.67 26.10 308.67 24.10V18.10" stroke="#909090" stroke-width="0.3" stroke-opacity="0.11"/>
<path d="M270.00 100.40V30.49C285.08 30.29 299.51 29.03 302.26 28.05Q303.51 27.05 303.51 25.05V18.10" stroke="#909090" stroke-width="0.3" stroke-opacity="0.11"/>
<path d="M270.00 100.40V26.40C277.43 26.27 282.51 25.45 285.26 24.64Q286.51 23.64 286.51 21.64V18.10" stroke="#909090" stroke-width="0.3" stroke-opacity="0.11"/>
<path d="M270.00 100.40V27.58C282.19 27.41 293.08 26.31 295.83 25.39Q297.08 24.39 297.08 22.39V18.10" stroke="#909090" stroke-width="0.3" stroke-opacity="0.11"/>
<path d="M270.00 100.40V30.82C282.68 30.65 294.17 29.53 296.92 28.59Q298.17 27.59 298.17 25.59V18.10" stroke="#909090" stroke-width="0.3" stroke-opacity="0.11"/>
<path d="M270.00 100.40V29.41C286.26 29.20 302.13 27.87 304.88 26.86Q306.13 25.86 306.13 23.86V18.10" stroke="#909090" stroke-width="0.3" stroke-opacity="0.11"/>
<path d="M270.00 100.40V36.35C284.13 36.16 297.40 34.96 300.15 33.99Q301.40 32.99 301.40 30.99V18.10" stroke="#909090" stroke-width="0.3" stroke-opacity="0.11"/>
<path d="M270.00 100.40V42.90C272.45 42.82 273.26 42.29 274.76 41.81Q275.44 41.27 275.44 40.18V18.10" stroke="#909090" stroke-width="0.3" stroke-opacity="0.11"/>
<path d="M270.00 100.40V54.02C271.65 53.94 272.20 53.46 273.20 53.09Q273.66 52.72 273.66 51.99V18.10" stroke="#909090" stroke-width="0.3" stroke-opacity="0.11"/>
<path d="M270.00 100.40V31.11C291.43 30.86 313.62 29.23 316.38 28.11Q317.62 27.11 317.62 25.11V18.10" stroke="#909090" stroke-width="0.3" stroke-opacity="0.11"/>
<path d="M270.00 100.40V25.45C277.66 25.32 283.02 24.49 285.77 23.67Q287.02 22.67 287.02 20.67V18.10" stroke="#909090" stroke-width="0.3" stroke-opacity="0.11"/>
<path d="M270.00 100.40V28.73C274.01 28.63 275.34 28.01 277.79 27.33Q278.90 26.44 278.90 24.66V18.10" stroke="#909090" stroke-width="0.3" stroke-opacity="0.11"/>
<path d="M270.00 100.40V29.01C271.44 28.93 271.92 28.46 272.79 28.12Q273.19 27.80 273.19 27.16V18.10" stroke="#909090" stroke-width="0.3" stroke-opacity="0.11"/>
<path d="M270.00 100.40V26.73C291.43 26.48 313.62 24.86 316.38 23.73Q317.62 22.73 317.62 20.73V18.10" stroke="#909090" stroke-width="0.3" stroke-opacity="0.11"/>
<path d="M270.00 100.40V32.90C280.71 32.74 289.79 31.73 292.54 30.84Q293.79 29.84 293.79 27.84V18.10" stroke="#909090" stroke-width="0.3" stroke-opacity="0.11"/>
<path d="M270.00 100.40V34.47C272.19 34.39 272.91 33.87 274.25 33.43Q274.86 32.94 274.86 31.97V18.10" stroke="#909090" stroke-width="0.3" stroke-opacity="0.11"/>
<path d="M270.00 100.40V33.85C281.35 33.69 291.22 32.64 293.97 31.74Q295.22 30.74 295.22 28.74V18.10" stroke="#909090" stroke-width="0.3" stroke-opacity="0.11"/>
<path d="M270.00 100.40V28.45C275.96 28.33 279.24 27.60 281.99 26.82Q283.24 25.82 283.24 23.82V18.10" stroke="#909090" stroke-width="0.3" stroke-opacity="0.11"/>
<path d="M270.00 100.40V30.86C278.04 30.73 283.87 29.87 286.62 29.04Q287.87 28.04 287.87 26.04V18.10" stroke="#909090" stroke-width="0.3" stroke-opacity="0.11"/>
<path d="M270.00 100.40V31.89C279.79 31.74 287.76 30.79 290.51 29.92Q291.76 28.92 291.76 26.92V18.10" stroke="#909090" stroke-width="0.3" stroke-opacity="0.11"/>
<path d="M270.00 100.40V34.02C283.79 33.84 296.65 32.65 299.40 31.69Q300.65 30.69 300.65 28.69V18.10" stroke="#909090" stroke-width="0.3" stroke-opacity="0.11"/>
<path d="M270.00 100.40V37.43C277.07 37.31 281.70 36.51 284.45 35.70Q285.70 34.70 285.70 32.70V18.10" stroke="#909090" stroke-width="0.3" stroke-opacity="0.11"/>
<path d="M270.00 100.40V36.87C273.68 36.78 274.91 36.18 277.16 35.54Q278.19 34.72 278.19 33.08V18.10" stroke="#909090" stroke-width="0.3" stroke-opacity="0.11"/>
<path d="M270.00 100.40V26.35C271.42 26.28 271.90 25.81 272.77 25.47Q273.16 25.15 273.16 24.52V18.10" stroke="#909090" stroke-width="0.3" stroke-opacity="0.11"/>
<path d="M270.00 100.40V59.89C271.46 59.82 271.95 59.34 272.84 59.00Q273.25 58.67 273.25 58.02V18.10" stroke="#909090" stroke-width="0.3" stroke-opacity="0.11"/>
<path d="M270.00 100.40V30.55C282.27 30.38 293.26 29.29 296.01 28.36Q297.26 27.36 297.26 25.36V18.10" stroke="#909090" stroke-width="0.3" stroke-opacity="0.11"/>
<path d="M270.00 100.40V49.66C271.59 49.58 272.12 49.10 273.09 48.74Q273.53 48.39 273.53 47.68V18.10" stroke="#909090" stroke-width="0.3" stroke-opacity="0.11"/>
<path d="M270.00 100.40V26.88C291.43 26.63 313.62 25.00 316.38 23.88Q317.62 22.88 317.62 20.88V18.10" stroke="#909090" stroke-width="0.3" stroke-opacity="0.11"/>
<path d="M270.00 100.40V44.19C274.67 44.09 276.37 43.43 279.12 42.68Q280.37 41.68 280.37 39.68V18.10" stroke="#909090" stroke-width="0.3" stroke-opacity="0.11"/>
<path d="M270.00 100.40V28.87C272.67 28.78 273.56 28.24 275.20 27.73Q275.94 27.14 275.94 25.95V18.10" stroke="#909090" stroke-width="0.3" stroke-opacity="0.11"/>
<path d="M270.00 100.40V29.08C271.27 29.01 271.69 28.55 272.47 28.23Q272.82 27.94 272.82 27.38V18.10" stroke="#909090" stroke-width="0.3" stroke-opacity="0.11"/>
<path d="M270.00 100.40V29.59C285.92 29.38 301.38 28.07 304.13 27.07Q305.38 26.07 305.38 24.07V18.10" stroke="#909090" stroke-width="0.3" stroke-opacity="0.11"/>
<path d="M270.00 100.40V35.58C281.63 35.41 291.84 34.35 294.59 33.44Q295.84 32.44 295.84 30.44V18.10" stroke="#909090" stroke-width="0.3" stroke-opacity="0.11"/>
<path d="M270.00 100.40V34.02C277.87 33.89 283.49 33.05 286.24 32.22Q287.49 31.22 287.49 29.22V18.10" stroke="#909090" stroke-width="0.3" stroke-opacity="0.11"/>
<path d="M270.00 100.40V44.42C275.51 44.31 278.24 43.60 280.99 42.83Q282.24 41.83 282.24 39.83V18.10" stroke="#909090" stroke-width="0.3" stroke-opacity="0.11"/>
<path d="M270.00 100.40V36.07C277.04 35.95 281.64 35.15 284.39 34.34Q285.64 33.34 285.64 31.34V18.10" stroke="#909090" stroke-width="0.3" stroke-opacity="0.11"/>
<path d="M270.00 100.40V30.92C276.35 30.80 280.10 30.05 282.85 29.26Q284.10 28.26 284.10 26.26V18.10" stroke="#909090" stroke-width="0.3" stroke-opacity="0.11"/>
<path d="M270.00 100.40V45.31C272.64 45.23 273.51 44.68 275.13 44.18Q275.86 43.60 275.86 42.43V18.10" stroke="#909090" stroke-width="0.3" stroke-opacity="0.11"/>
<path d="M270.00 100.40V36.73C271.64 36.65 272.19 36.17 273.19 35.80Q273.65 35.44 273.65 34.71V18.10" stroke="#909090" stroke-width="0.3" stroke-opacity="0.11"/>
<path d="M270.00 100.40V32.33C280.92 32.17 290.27 31.15 293.02 30.26Q294.27 29.26 294.27 27.26V18.10" stroke="#909090" stroke-width="0.3" stroke-opacity="0.11"/>
<path d="M270.00 100.40V34.57C288.03 34.35 306.08 32.92 308.83 31.87Q310.08 30.87 310.08 28.87V18.10" stroke="#909090" stroke-width="0.3" stroke-opacity="0.11"/>
<path d="M270.00 100.40V31.32C283.90 31.14 296.88 29.94 299.63 28.99Q300.88 27.99 300.88 25.99V18.10" stroke="#909090" stroke-width="0.3" stroke-opacity="0.11"/>
<path d="M270.00 100.40V31.26C285.28 31.06 299.95 29.79 302.70 28.80Q303.95 27.80 303.95 25.80V18.10" stroke="#909090" stroke-width="0.3" stroke-opacity="0.11"/>
<path d="M270.00 100.40V33.86C284.25 33.68 297.66 32.46 300.41 31.50Q301.66 30.50 301.66 28.50V18.10" stroke="#909090" stroke-width="0.3" stroke-opacity="0.11"/>
<path d="M270.00 100.40V26.00C290.15 25.76 310.77 24.20 313.52 23.10Q314.77 22.10 314.77 20.10V18.10" stroke="#909090" stroke-width="0.3" stroke-opacity="0.11"/>
<path d="M270.00 100.40V41.84C274.68 41.74 276.39 41.08 279.14 40.32Q280.39 39.32 280.39 37.32V18.10" stroke="#909090" stroke-width="0.3" stroke-opacity="0.11"/>
<path d="M270.00 100.40V37.13C281.23 36.97 290.96 35.93 293.71 35.03Q294.96 34.03 294.96 32.03V18.10" stroke="#909090" stroke-width="0.3" stroke-opacity="0.11"/>
<path d="M270.00 100.40V24.50C291.43 24.25 314.60 22.62 316.68 21.62Q317.62 20.86 317.62 19.35V18.10" stroke="#909090" stroke-width="0.3" stroke-opacity="0.11"/>
<path d="M270.00 100.40V34.05C282.27 33.88 293.26 32.78 296.01 31.86Q297.26 30.86 297.26 28.86V18.10" stroke="#909090" stroke-width="0.3" stroke-opacity="0.11"/>
<path d="M270.00 100.40V31.33C272.08 31.25 272.78 30.74 274.05 30.31Q274.63 29.85 274.63 28.92V18.10" stroke="#909090" stroke-width="0.3" stroke-opacity="0.11"/>
<path d="M270.00 100.40V32.88C279.50 32.73 287.12 31.79 289.87 30.93Q291.12 29.93 291.12 27.93V18.10" stroke="#909090" stroke-width="0.3" stroke-opacity="0.11"/>
<path d="M270.00 100.40V35.72C275.00 35.62 277.12 34.94 279.87 34.17Q281.12 33.17 281.12 31.17V18.10" stroke="#909090" stroke-width="0.3" stroke-opacity="0.11"/>
<path d="M270.00 100.40V34.55C284.77 34.36 298.82 33.12 301.57 32.14Q302.82 31.14 302.82 29.14V18.10" stroke="#909090" stroke-width="0.3" stroke-opacity="0.11"/>
<path d="M270.00 100.40V30.89C291.43 30.64 313.62 29.02 316.38 27.89Q317.62 26.89 317.62 24.89V18.10" stroke="#909090" stroke-width="0.3" stroke-opacity="0.11"/>
<path d="M270.00 100.40V42.58C273.40 42.49 274.53 41.90 276.60 41.30Q277.55 40.55 277.55 39.04V18.10" stroke="#909090" stroke-width="0.3" stroke-opacity="0.11"/>
<path d="M270.00 100.40V27.37C285.46 27.17 300.35 25.89 303.10 24.90Q304.35 23.90 304.35 21.90V18.10" stroke="#909090" stroke-width="0.3" stroke-opacity="0.11"/>
<path d="M270.00 100.40V35.70C283.14 35.52 295.21 34.37 297.96 33.43Q299.21 32.43 299.21 30.43V18.10" stroke="#909090" stroke-width="0.3" stroke-opacity="0.11"/>
<path d="M270.00 100.40V29.97C291.43 29.72 313.62 28.10 316.38 26.97Q317.62 25.97 317.62 23.97V18.10" stroke="#909090" stroke-width="0.3" stroke-opacity="0.11"/>
<path d="M270.00 100.40V29.59C285.90 29.39 301.34 28.08 304.09 27.08Q305.34 26.08 305.34 24.08V18.10" stroke="#909090" stroke-width="0.3" stroke-opacity="0.11"/>
<path d="M270.00 100.40V25.46C272.88 25.38 273.84 24.82 275.60 24.29Q276.40 23.65 276.40 22.37V18.10" stroke="#909090" stroke-width="0.3" stroke-opacity="0.11"/>
<path d="M270.00 100.40V33.87C277.64 33.74 282.99 32.91 285.74 32.09Q286.99 31.09 286.99 29.09V18.10" stroke="#909090" stroke-width="0.3" stroke-opacity="0.11"/>
<path d="M270.00 100.40V32.12C277.86 31.99 283.47 31.15 286.22 30.32Q287.47 29.32 287.47 27.32V18.10" stroke="#909090" stroke-width="0.3" stroke-opacity="0.11"/>
<path d="M270.00 100.40V61.38C271.08 61.31 271.44 60.86 272.10 60.56Q272.40 60.32 272.40 59.84V18.10" stroke="#909090" stroke-width="0.3" stroke-opacity="0.11"/>
<path d="M270.00 100.40V38.81C273.42 38.72 274.56 38.13 276.65 37.52Q277.60 36.76 277.60 35.24V18.10" stroke="#909090" stroke-width="0.3" stroke-opacity="0.11"/>
<path d="M270.00 100.40V32.28C287.86 32.06 305.68 30.64 308.43 29.59Q309.68 28.59 309.68 26.59V18.10" stroke="#909090" stroke-width="0.3" stroke-opacity="0.11"/>
<path d="M270.00 100.40V30.24C291.43 29.99 313.62 28.36 316.38 27.23Q317.62 26.23 317.62 24.23V18.10" stroke="#909090" stroke-width="0.3" stroke-opacity="0.11"/>
<path d="M270.00 100.40V29.93C288.75 29.71 307.66 28.23 310.41 27.17Q311.66 26.17 311.66 24.17V18.10" stroke="#909090" stroke-width="0.3" stroke-opacity="0.11"/>
<path d="M270.00 100.40V42.19C273.65 42.09 274.87 41.49 277.10 40.86Q278.11 40.04 278.11 38.42V18.10" stroke="#909090" stroke-width="0.3" stroke-opacity="0.11"/>
<path d="M270.00 100.40V34.23C283.30 34.05 295.55 32.89 298.30 31.94Q299.55 30.94 299.55 28.94V18.10" stroke="#909090" stroke-width="0.3" stroke-opacity="0.11"/>
<path d="M270.00 100.40V25.32C272.97 25.24 273.96 24.68 275.78 24.13Q276.60 23.47 276.60 22.15V18.10" stroke="#909090" stroke-width="0.3" stroke-opacity="0.11"/>
<path d="M270.00 100.40V25.58C273.12 25.50 274.15 24.93 276.06 24.36Q276.92 23.67 276.92 22.28V18.10" stroke="#909090" stroke-width="0.3" stroke-opacity="0.11"/>
<path d="M270.00 100.40V27.73C288.76 27.51 307.68 26.03 310.43 24.97Q311.68 23.97 311.68 21.97V18.10" stroke="#909090" stroke-width="0.3" stroke-opacity="0.11"/>
<path d="M270.00 100.40V30.14C279.06 30.00 286.13 29.09 288.88 28.24Q290.13 27.24 290.13 25.24V18.10" stroke="#909090" stroke-width="0.3" stroke-opacity="0.11"/>
<path d="M270.00 100.40V36.16C272.72 36.07 273.62 35.53 275.28 35.01Q276.04 34.41 276.04 33.20V18.10" stroke="#909090" stroke-width="0.3" stroke-opacity="0.11"/>
<path d="M270.00 100.40V38.84C282.17 38.67 293.05 37.57 295.80 36.65Q297.05 35.65 297.05 33.65V18.10" stroke="#909090" stroke-width="0.3" stroke-opacity="0.11"/>
<path d="M270.00 100.40V29.55C278.06 29.41 283.90 28.56 286.65 27.73Q287.90 26.73 287.90 24.73V18.10" stroke="#909090" stroke-width="0.3" stroke-opacity="0.11"/>
<path d="M270.00 100.40V30.82C291.43 30.57 313.62 28.95 316.38 27.82Q317.62 26.82 317.62 24.82V18.10" stroke="#909090" stroke-width="0.3" stroke-opacity="0.11"/>
<path d="M270.00 100.40V38.81C275.15 38.70 277.45 38.01 280.20 37.25Q281.45 36.25 281.45 34.25V18.10" stroke="#909090" stroke-width="0.3" stroke-opacity="0.11"/>
<path d="M270.00 100.40V30.56C279.73 30.42 287.62 29.47 290.37 28.60Q291.62 27.60 291.62 25.60V18.10" stroke="#909090" stroke-width="0.3" stroke-opacity="0.11"/>
<path d="M270.00 100.40V31.50C282.99 31.32 294.86 30.18 297.61 29.24Q298.86 28.24 298.86 26.24V18.10" stroke="#909090" stroke-width="0.3" stroke-opacity="0.11"/>
<path d="M270.00 100.40V41.07C278.56 40.93 285.02 40.05 287.77 39.21Q289.02 38.21 289.02 36.21V18.10" stroke="#909090" stroke-width="0.3" stroke-opacity="0.11"/>
<path d="M270.00 100.40V33.85C285.11 33.66 299.58 32.39 302.33 31.41Q303.58 30.41 303.58 28.41V18.10" stroke="#909090" stroke-width="0.3" stroke-opacity="0.11"/>
<path d="M270.00 100.40V38.54C271.28 38.47 271.71 38.00 272.49 37.68Q272.84 37.40 272.84 36.83V18.10" stroke="#909090" stroke-width="0.3" stroke-opacity="0.11"/>
<path d="M270.00 100.40V33.11C281.87 32.95 292.38 31.87 295.13 30.96Q296.38 29.96 296.38 27.96V18.10" stroke="#909090" stroke-width="0.3" stroke-opacity="0.11"/>
<path d="M270.00 100.40V34.39C272.42 34.31 273.22 33.78 274.70 33.30Q275.37 32.77 275.37 31.69V18.10" stroke="#909090" stroke-width="0.3" stroke-opacity="0.11"/>
<path d="M270.00 100.40V34.66C284.04 34.47 297.21 33.27 299.96 32.31Q301.21 31.31 301.21 29.31V18.10" stroke="#909090" stroke-width="0.3" stroke-opacity="0.11"/>
<path d="M270.00 100.40V34.31C274.75 34.21 276.55 33.55 279.30 32.79Q280.55 31.79 280.55 29.79V18.10" stroke="#909090" stroke-width="0.3" stroke-opacity="0.11"/>
<path d="M270.00 100.40V39.64C279.32 39.49 286.71 38.56 289.46 37.71Q290.71 36.71 290.71 34.71V18.10" stroke="#909090" stroke-width="0.3" stroke-opacity="0.11"/>
<path d="M270.00 100.40V32.06C291.43 31.81 313.62 30.19 316.38 29.06Q317.62 28.06 317.62 26.06V18.10" stroke="#909090" stroke-width="0.3" stroke-opacity="0.11"/>
<path d="M270.00 100.40V36.49C278.90 36.35 285.78 35.45 288.53 34.60Q289.78 33.60 289.78 31.60V18.10" stroke="#909090" stroke-width="0.3" stroke-opacity="0.11"/>
<path d="M270.00 100.40V42.89C277.08 42.77 281.74 41.97 284.49 41.16Q285.74 40.16 285.74 38.16V18.10" stroke="#909090" stroke-width="0.3" stroke-opacity="0.11"/>
<path d="M270.00 100.40V28.91C287.62 28.69 305.15 27.28 307.90 26.24Q309.15 25.24 309.15 23.24V18.10" stroke="#909090" stroke-width="0.3" stroke-opacity="0.11"/>
<path d="M270.00 100.40V33.98C285.85 33.78 301.23 32.47 303.98 31.47Q305.23 30.47 305.23 28.47V18.10" stroke="#909090" stroke-width="0.3" stroke-opacity="0.11"/>
<path d="M270.00 100.40V30.75C274.12 30.65 275.50 30.02 278.02 29.32Q279.16 28.41 279.16 26.58V18.10" stroke="#909090" stroke-width="0.3" stroke-opacity="0.11"/>
<path d="M270.00 100.40V30.73C275.39 30.62 277.97 29.92 280.72 29.15Q281.97 28.15 281.97 26.15V18.10" stroke="#909090" stroke-width="0.3" stroke-opacity="0.11"/>
<path d="M270.00 100.40V32.54C291.22 32.29 313.16 30.68 315.91 29.55Q317.16 28.55 317.16 26.55V18.10" stroke="#909090" stroke-width="0.3" stroke-opacity="0.11"/>
<path d="M270.00 100.40V26.88C273.96 26.79 275.28 26.17 277.70 25.49Q278.80 24.61 278.80 22.85V18.10" stroke="#909090" stroke-width="0.3" stroke-opacity="0.11"/>
<path d="M270.00 100.40V40.78C272.59 40.69 273.46 40.15 275.04 39.66Q275.76 39.08 275.76 37.93V18.10" stroke="#909090" stroke-width="0.3" stroke-opacity="0.11"/>
<path d="M270.00 100.40V26.94C285.95 26.74 301.44 25.43 304.19 24.42Q305.44 23.42 305.44 21.42V18.10" stroke="#909090" stroke-width="0.3" stroke-opacity="0.11"/>
<path d="M270.00 100.40V28.15C276.37 28.03 280.16 27.27 282.91 26.48Q284.16 25.48 284.16 23.48V18.10" stroke="#909090" stroke-width="0.3" stroke-opacity="0.11"/>
<path d="M270.00 100.40V26.30C286.22 26.10 302.05 24.77 304.80 23.76Q306.05 22.76 306.05 20.76V18.10" stroke="#909090" stroke-width="0.3" stroke-opacity="0.11"/>
<path d="M270.00 100.40V29.31C277.58 29.19 282.83 28.36 285.58 27.54Q286.83 26.54 286.83 24.54V18.10" stroke="#909090" stroke-width="0.3" stroke-opacity="0.11"/>
<path d="M270.00 100.40V23.89C278.99 23.75 286.61 22.84 288.93 22.07Q289.98 21.22 289.98 19.53V18.10" stroke="#909090" stroke-width="0.3" stroke-opacity="0.11"/>
<path d="M270.00 100.40V35.47C278.64 35.33 285.19 34.45 287.94 33.60Q289.19 32.60 289.19 30.60V18.10" stroke="#909090" stroke-width="0.3" stroke-opacity="0.11"/>
<path d="M270.00 100.40V40.57C276.15 40.46 279.66 39.71 282.41 38.92Q283.66 37.92 283.66 35.92V18.10" stroke="#909090" stroke-width="0.3" stroke-opacity="0.11"/>
<path d="M270.00 100.40V44.87C271.83 44.79 272.44 44.29 273.56 43.90Q274.06 43.49 274.06 42.68V18.10" stroke="#909090" stroke-width="0.3" stroke-opacity="0.11"/>
<path d="M270.00 100.40V38.47C277.39 38.35 282.42 37.53 285.17 36.72Q286.42 35.72 286.42 33.72V18.10" stroke="#909090" stroke-width="0.3" stroke-opacity="0.11"/>
<path d="M270.00 100.40V33.71C290.11 33.47 310.69 31.92 313.44 30.83Q314.69 29.83 314.69 27.83V18.10" stroke="#909090" stroke-width="0.3" stroke-opacity="0.11"/>
<path d="M270.00 100.40V34.11C271.21 34.04 271.61 33.58 272.35 33.27Q272.69 33.00 272.69 32.46V18.10" stroke="#909090" stroke-width="0.3" stroke-opacity="0.11"/>
<path d="M270.00 100.40V32.77C287.03 32.56 303.85 31.19 306.60 30.16Q307.85 29.16 307.85 27.16V18.10" stroke="#909090" stroke-width="0.3" stroke-opacity="0.11"/>
<path d="M270.00 100.40V38.85C272.77 38.76 273.70 38.21 275.39 37.69Q276.16 37.08 276.16 35.84V18.10" stroke="#909090" stroke-width="0.3" stroke-opacity="0.11"/>
<path d="M270.00 100.40V28.06C277.47 27.94 282.59 27.12 285.34 26.30Q286.59 25.30 286.59 23.30V18.10" stroke="#909090" stroke-width="0.3" stroke-opacity="0.11"/>
<path d="M270.00 100.40V42.83C275.15 42.72 277.45 42.04 280.20 41.27Q281.45 40.27 281.45 38.27V18.10" stroke="#909090" stroke-width="0.3" stroke-opacity="0.11"/>
<path d="M270.00 100.40V33.52C285.69 33.32 300.86 32.02 303.61 31.02Q304.86 30.02 304.86 28.02V18.10" stroke="#909090" stroke-width="0.3" stroke-opacity="0.11"/>
<path d="M270.00 100.40V28.66C289.20 28.43 308.66 26.93 311.41 25.85Q312.66 24.85 312.66 22.85V18.10" stroke="#909090" stroke-width="0.3" stroke-opacity="0.11"/>
<path d="M270.00 100.40V26.87C283.00 26.69 294.89 25.55 297.64 24.61Q298.89 23.61 298.89 21.61V18.10" stroke="#909090" stroke-width="0.3" stroke-opacity="0.11"/>
<path d="M270.00 100.40V39.07C280.21 38.92 288.68 37.94 291.43 37.06Q292.68 36.06 292.68 34.06V18.10" stroke="#909090" stroke-width="0.3" stroke-opacity="0.11"/>
<path d="M270.00 100.40V24.86C273.35 24.77 274.47 24.18 276.52 23.59Q277.45 22.84 277.45 21.35V18.10" stroke="#909090" stroke-width="0.3" stroke-opacity="0.11"/>
<path d="M270.00 100.40V37.42C278.33 37.29 284.52 36.42 287.27 35.58Q288.52 34.58 288.52 32.58V18.10" stroke="#909090" stroke-width="0.3" stroke-opacity="0.11"/>
<path d="M270.00 100.40V33.52C286.97 33.31 303.71 31.94 306.46 30.92Q307.71 29.92 307.71 27.92V18.10" stroke="#909090" stroke-width="0.3" stroke-opacity="0.11"/>
<path d="M270.00 100.40V29.41C272.75 29.33 273.67 28.78 275.35 28.26Q276.11 27.65 276.11 26.43V18.10" stroke="#909090" stroke-width="0.3" stroke-opacity="0.11"/>
<path d="M270.00 100.40V30.02C287.86 29.81 305.70 28.38 308.45 27.34Q309.70 26.34 309.70 24.34V18.10" stroke="#909090" stroke-width="0.3" stroke-opacity="0.11"/>
<path d="M270.00 100.40V28.13C273.60 28.04 274.80 27.44 277.00 26.81Q278.00 26.01 278.00 24.41V18.10" stroke="#909090" stroke-width="0.3" stroke-opacity="0.11"/>
<path d="M270.00 100.40V31.73C291.43 31.48 313.62 29.85 316.38 28.73Q317.62 27.73 317.62 25.73V18.10" stroke="#909090" stroke-width="0.3" stroke-opacity="0.11"/>
<path d="M270.00 100.40V46.25C271.05 46.18 271.40 45.73 272.04 45.44Q272.34 45.20 272.34 44.74V18.10" stroke="#909090" stroke-width="0.3" stroke-opacity="0.11"/>
<path d="M270.00 100.40V28.59C276.75 28.47 281.00 27.69 283.75 26.89Q285.00 25.89 285.00 23.89V18.10" stroke="#909090" stroke-width="0.3" stroke-opacity="0.11"/>
<path d="M270.00 100.40V33.08C271.22 33.01 271.62 32.55 272.37 32.24Q272.70 31.97 272.70 31.43V18.10" stroke="#909090" stroke-width="0.3" stroke-opacity="0.11"/>
<path d="M270.00 100.40V26.53C278.45 26.39 284.77 25.51 287.52 24.67Q288.77 23.67 288.77 21.67V18.10" stroke="#909090" stroke-width="0.3" stroke-opacity="0.11"/>
<path d="M270.00 100.40V29.89C277.77 29.76 283.27 28.92 286.02 28.10Q287.27 27.10 287.27 25.10V18.10" stroke="#909090" stroke-width="0.3" stroke-opacity="0.11"/>
<path d="M270.00 100.40V30.65C286.09 30.45 301.75 29.13 304.50 28.12Q305.75 27.12 305.75 25.12V18.10" stroke="#909090" stroke-width="0.3" stroke-opacity="0.11"/>
<path d="M270.00 100.40V30.50C287.82 30.28 305.60 28.86 308.35 27.81Q309.60 26.81 309.60 24.81V18.10" stroke="#909090" stroke-width="0.3" stroke-opacity="0.11"/>
<path d="M270.00 100.40V34.83C276.47 34.71 280.39 33.95 283.14 33.15Q284.39 32.15 284.39 30.15V18.10" stroke="#909090" stroke-width="0.3" stroke-opacity="0.11"/>
<path d="M270.00 100.40V36.23C273.05 36.15 274.06 35.58 275.92 35.02Q276.77 34.35 276.77 32.99V18.10" stroke="#909090" stroke-width="0.3" stroke-opacity="0.11"/>
<path d="M270.00 100.40V35.25C277.47 35.12 282.60 34.30 285.35 33.48Q286.60 32.48 286.60 30.48V18.10" stroke="#909090" stroke-width="0.3" stroke-opacity="0.11"/>
<path d="M270.00 100.40V43.72C271.48 43.65 271.97 43.17 272.87 42.83Q273.28 42.50 273.28 41.84V18.10" stroke="#909090" stroke-width="0.3" stroke-opacity="0.11"/>
<path d="M270.00 100.40V29.10C273.90 29.01 275.20 28.39 277.59 27.72Q278.67 26.85 278.67 25.12V18.10" stroke="#909090" stroke-width="0.3" stroke-opacity="0.11"/>
<path d="M270.00 100.40V32.50C290.14 32.26 310.76 30.71 313.51 29.61Q314.76 28.61 314.76 26.61V18.10" stroke="#909090" stroke-width="0.3" stroke-opacity="0.11"/>
<path d="M270.00 100.40V31.57C284.83 31.38 298.95 30.13 301.70 29.15Q302.95 28.15 302.95 26.15V18.10" stroke="#909090" stroke-width="0.3" stroke-opacity="0.11"/>
<path d="M270.00 100.40V60.59C271.29 60.52 271.72 60.05 272.51 59.73Q272.87 59.44 272.87 58.87V18.10" stroke="#909090" stroke-width="0.3" stroke-opacity="0.11"/>
<path d="M270.00 100.40V29.18C271.38 29.11 271.84 28.64 272.68 28.31Q273.07 28.00 273.07 27.39V18.10" stroke="#909090" stroke-width="0.3" stroke-opacity="0.11"/>
<path d="M270.00 100.40V30.61C291.43 30.36 313.62 28.73 316.38 27.60Q317.62 26.60 317.62 24.60V18.10" stroke="#909090" stroke-width="0.3" stroke-opacity="0.11"/>
<path d="M270.00 100.40V44.41C273.69 44.32 274.92 43.72 277.18 43.08Q278.21 42.25 278.21 40.61V18.10" stroke="#909090" stroke-width="0.3" stroke-opacity="0.11"/>
<path d="M270.00 100.40V26.90C279.77 26.75 287.71 25.80 290.46 24.93Q291.71 23.93 291.71 21.93V18.10" stroke="#909090" stroke-width="0.3" stroke-opacity="0.11"/>
<path d="M270.00 100.40V34.22C277.55 34.09 282.79 33.27 285.54 32.45Q286.79 31.45 286.79 29.45V18.10" stroke="#909090" stroke-width="0.3" stroke-opacity="0.11"/>
<path d="M270.00 100.40V33.65C286.69 33.44 303.09 32.08 305.84 31.06Q307.09 30.06 307.09 28.06V18.10" stroke="#909090" stroke-width="0.3" stroke-opacity="0.11"/>
<path d="M270.00 100.40V34.44C284.67 34.24 298.59 33.01 301.34 32.03Q302.59 31.03 302.59 29.03V18.10" stroke="#909090" stroke-width="0.3" stroke-opacity="0.11"/>
<path d="M270.00 100.40V45.08C272.23 45.00 272.97 44.48 274.33 44.03Q274.95 43.54 274.95 42.55V18.10" stroke="#909090" stroke-width="0.3" stroke-opacity="0.11"/>
<path d="M270.00 100.40V33.04C284.97 32.84 299.26 31.59 302.01 30.60Q303.26 29.60 303.26 27.60V18.10" stroke="#909090" stroke-width="0.3" stroke-opacity="0.11"/>
<path d="M270.00 100.40V55.05C271.16 54.98 271.55 54.53 272.26 54.22Q272.59 53.96 272.59 53.45V18.10" stroke="#909090" stroke-width="0.3" stroke-opacity="0.11"/>
<path d="M270.00 100.40V29.31C276.70 29.19 280.90 28.41 283.65 27.61Q284.90 26.61 284.90 24.61V18.10" stroke="#909090" stroke-width="0.3" stroke-opacity="0.11"/>
<path d="M270.00 100.40V35.12C276.31 35.01 280.02 34.25 282.77 33.46Q284.02 32.46 284.02 30.46V18.10" stroke="#909090" stroke-width="0.3" stroke-opacity="0.11"/>
<path d="M270.00 100.40V41.18C274.95 41.07 277.01 40.40 279.76 39.64Q281.01 38.64 281.01 36.64V18.10" stroke="#909090" stroke-width="0.3" stroke-opacity="0.11"/>
<path d="M270.00 100.40V33.76C281.26 33.60 291.02 32.55 293.77 31.65Q295.02 30.65 295.02 28.65V18.10" stroke="#909090" stroke-width="0.3" stroke-opacity="0.11"/>
<path d="M270.00 100.40V34.36C285.89 34.15 301.32 32.85 304.07 31.84Q305.32 30.84 305.32 28.84V18.10" stroke="#909090" stroke-width="0.3" stroke-opacity="0.11"/>
<path d="M270.00 100.40V28.62C291.43 28.37 313.62 26.75 316.38 25.62Q317.62 24.62 317.62 22.62V18.10" stroke="#909090" stroke-width="0.3" stroke-opacity="0.11"/>
<path d="M270.00 100.40V26.44C272.98 26.35 273.97 25.79 275.79 25.24Q276.62 24.58 276.62 23.26V18.10" stroke="#909090" stroke-width="0.3" stroke-opacity="0.11"/>
<path d="M270.00 100.40V35.34C282.04 35.17 292.75 34.09 295.50 33.17Q296.75 32.17 296.75 30.17V18.10" stroke="#909090" stroke-width="0.3" stroke-opacity="0.11"/>
<path d="M270.00 100.40V37.12C279.27 36.98 286.59 36.05 289.34 35.19Q290.59 34.19 290.59 32.19V18.10" stroke="#909090" stroke-width="0.3" stroke-opacity="0.11"/>
<path d="M270.00 100.40V56.64C303.16 56.34 339.69 54.39 342.44 53.14Q343.69 52.14 343.69 50.14V18.10" stroke="#b3b3b3" stroke-width="0.36" stroke-opacity="0.9"/>
<path d="M270.00 100.40V65.88C300.35 65.58 333.44 63.63 336.19 62.38Q337.44 61.38 337.44 59.38V18.10" stroke="#b3b3b3" stroke-width="0.36" stroke-opacity="0.9"/>
<path d="M270.00 100.40V66.85C290.57 66.61 311.72 65.03 314.47 63.92Q315.72 62.92 315.72 60.92V18.10" stroke="#b3b3b3" stroke-width="0.36" stroke-opacity="0.9"/>
<path d="M270.00 100.40V48.56C294.35 48.29 320.10 46.49 322.85 45.30Q324.10 44.30 324.10 42.30V18.10" stroke="#b3b3b3" stroke-width="0.36" stroke-opacity="0.9"/>
<path d="M270.00 100.40V41.80C297.09 41.50 326.20 39.55 328.95 38.30Q330.20 37.30 330.20 35.30V18.10" stroke="#b3b3b3" stroke-width="0.36" stroke-opacity="0.9"/>
<path d="M270.00 100.40V41.10C301.20 40.80 335.34 38.85 338.09 37.60Q339.34 36.60 339.34 34.60V18.10" stroke="#b3b3b3" stroke-width="0.36" stroke-opacity="0.9"/>
<path d="M270.00 100.40V50.63C278.23 50.50 284.29 49.63 287.04 48.80Q288.29 47.80 288.29 45.80V18.10" stroke="#b3b3b3" stroke-width="0.36" stroke-opacity="0.9"/>
<path d="M270.00 100.40V36.89C292.12 36.63 315.15 34.96 317.90 33.82Q319.15 32.82 319.15 30.82V18.10" stroke="#b3b3b3" stroke-width="0.36" stroke-opacity="0.9"/>
<path d="M270.00 100.40V43.09C292.63 42.83 316.29 41.13 319.04 39.98Q320.29 38.98 320.29 36.98V18.10" stroke="#b3b3b3" stroke-width="0.36" stroke-opacity="0.9"/>
<path d="M270.00 100.40V34.22C293.66 33.95 318.58 32.20 321.33 31.02Q322.58 30.02 322.58 28.02V18.10" stroke="#b3b3b3" stroke-width="0.36" stroke-opacity="0.9"/>
<path d="M270.00 100.40V53.66C291.77 53.40 314.39 51.75 317.14 50.62Q318.39 49.62 318.39 47.62V18.10" stroke="#b3b3b3" stroke-width="0.36" stroke-opacity="0.9"/>
<path d="M270.00 100.40V32.42C295.37 32.13 322.39 30.27 325.14 29.06Q326.39 28.06 326.39 26.06V18.10" stroke="#b3b3b3" stroke-width="0.36" stroke-opacity="0.9"/>
<path d="M270.00 100.40V35.50C298.46 35.20 329.25 33.25 332.00 32.00Q333.25 31.00 333.25 29.00V18.10" stroke="#b3b3b3" stroke-width="0.36" stroke-opacity="0.9"/>
<path d="M270.00 100.40V30.60C302.58 30.30 338.39 28.35 341.14 27.10Q342.39 26.10 342.39 24.10V18.10" stroke="#b3b3b3" stroke-width="0.36" stroke-opacity="0.9"/>
<path d="M270.00 100.40V46.22C283.72 46.04 296.48 44.85 299.23 43.90Q300.48 42.90 300.48 40.90V18.10" stroke="#b3b3b3" stroke-width="0.36" stroke-opacity="0.9"/>
<path d="M270.00 100.40V48.11C281.32 47.95 291.15 46.90 293.90 46.00Q295.15 45.00 295.15 43.00V18.10" stroke="#b3b3b3" stroke-width="0.36" stroke-opacity="0.9"/>
<path d="M270.00 100.40V44.56C287.14 44.35 304.10 42.97 306.85 41.94Q308.10 40.94 308.10 38.94V18.10" stroke="#b3b3b3" stroke-width="0.36" stroke-opacity="0.9"/>
<path d="M270.00 100.40V54.55C289.20 54.32 308.67 52.82 311.42 51.74Q312.67 50.74 312.67 48.74V18.10" stroke="#b3b3b3" stroke-width="0.36" stroke-opacity="0.9"/>
<path d="M270.00 100.40V55.63C276.17 55.51 279.72 54.77 282.47 53.98Q283.72 52.98 283.72 50.98V18.10" stroke="#b3b3b3" stroke-width="0.36" stroke-opacity="0.9"/>
<path d="M270.00 100.40V53.58C279.94 53.44 288.10 52.47 290.85 51.60Q292.10 50.60 292.10 48.60V18.10" stroke="#b3b3b3" stroke-width="0.36" stroke-opacity="0.9"/>
<path d="M270.00 100.40V49.45C285.43 49.25 300.29 47.97 303.04 46.98Q304.29 45.98 304.29 43.98V18.10" stroke="#b3b3b3" stroke-width="0.36" stroke-opacity="0.9"/>
<path d="M270.00 100.40V58.09C291.26 57.84 313.24 56.22 315.99 55.10Q317.24 54.10 317.24 52.10V18.10" stroke="#b3b3b3" stroke-width="0.36" stroke-opacity="0.9"/>
</g>
<path d="M293.5 18.0V22.4C293.3 24.2 291.4 24.8 288.9 25.4C284.9 26.4 281.9 27.5 279.4 29.7C276.4 32.5 274.4 35.7 272.9 38.8C271.7 41.3 270.6 43.8 270.2 46.8V100.6" fill="none" stroke="#1a1a1a" stroke-width="0.55" stroke-dasharray="2.1 0.95"/>
<rect x="266.50" y="14.50" width="80.00" height="90.00" fill="none" stroke="#222" stroke-width="0.55"/>
<line x1="264.50" y1="17.80" x2="266.50" y2="17.80" stroke="#222" stroke-width="0.55"/>
<text opacity="0.99" x="262.20" y="19.90" font-size="6.50" text-anchor="end" fill="#000">0</text>
<line x1="264.50" y1="31.80" x2="266.50" y2="31.80" stroke="#222" stroke-width="0.55"/>
<text opacity="0.99" x="262.20" y="33.90" font-size="6.50" text-anchor="end" fill="#000" textLength="15.93" lengthAdjust="spacingAndGlyphs">−100</text>
<line x1="264.50" y1="45.80" x2="266.50" y2="45.80" stroke="#222" stroke-width="0.55"/>
<text opacity="0.99" x="262.20" y="47.90" font-size="6.50" text-anchor="end" fill="#000" textLength="15.93" lengthAdjust="spacingAndGlyphs">−200</text>
<line x1="264.50" y1="59.80" x2="266.50" y2="59.80" stroke="#222" stroke-width="0.55"/>
<text opacity="0.99" x="262.20" y="61.90" font-size="6.50" text-anchor="end" fill="#000" textLength="15.93" lengthAdjust="spacingAndGlyphs">−300</text>
<line x1="264.50" y1="73.80" x2="266.50" y2="73.80" stroke="#222" stroke-width="0.55"/>
<text opacity="0.99" x="262.20" y="75.90" font-size="6.50" text-anchor="end" fill="#000" textLength="15.93" lengthAdjust="spacingAndGlyphs">−400</text>
<line x1="264.50" y1="87.80" x2="266.50" y2="87.80" stroke="#222" stroke-width="0.55"/>
<text opacity="0.99" x="262.20" y="89.90" font-size="6.50" text-anchor="end" fill="#000" textLength="15.93" lengthAdjust="spacingAndGlyphs">−500</text>
<line x1="264.50" y1="101.80" x2="266.50" y2="101.80" stroke="#222" stroke-width="0.55"/>
<text opacity="0.99" x="262.20" y="103.90" font-size="6.50" text-anchor="end" fill="#000" textLength="15.93" lengthAdjust="spacingAndGlyphs">−600</text>
<line x1="270.00" y1="104.50" x2="270.00" y2="106.50" stroke="#222" stroke-width="0.55"/>
<text opacity="0.99" x="270.00" y="112.80" font-size="6.50" text-anchor="middle" fill="#000" textLength="9.22" lengthAdjust="spacingAndGlyphs">0.0</text>
<line x1="308.10" y1="104.50" x2="308.10" y2="106.50" stroke="#222" stroke-width="0.55"/>
<text opacity="0.99" x="308.10" y="112.80" font-size="6.50" text-anchor="middle" fill="#000" textLength="9.22" lengthAdjust="spacingAndGlyphs">0.5</text>
<text opacity="0.99" x="306.60" y="121.60" font-size="6.50" text-anchor="middle" fill="#000" textLength="12.04" lengthAdjust="spacingAndGlyphs"><tspan font-style="italic">φ</tspan> [ ]</text>
<text opacity="0.99" x="306.60" y="10.50" font-size="7.80" text-anchor="middle" fill="#000" textLength="40.16" lengthAdjust="spacingAndGlyphs">Ice Fraction</text>
<text opacity="0.99" x="265.80" y="11.90" font-size="8.18" text-anchor="end" fill="#000" textLength="10.33" lengthAdjust="spacingAndGlyphs">(b)</text>
<rect x="318.4" y="81.3" width="25.5" height="20.2" rx="1.1" ry="1.1" fill="#fff" fill-opacity="0.8" stroke="#cfcfcf" stroke-width="0.55"/>
<line x1="321.20" y1="86.00" x2="332.80" y2="86.00" stroke="#c5c5c5" stroke-width="0.4"/>
<path d="M321.2 95.4H332.8" stroke="#111" stroke-width="0.6" stroke-dasharray="2.1 0.95" fill="none"/>
<text opacity="0.99" x="339.80" y="88.00" font-size="5.82" text-anchor="middle" fill="#000"><tspan font-style="italic">φ</tspan></text>
<text opacity="0.99" x="339.80" y="97.70" font-size="5.82" text-anchor="middle" fill="#000"><tspan font-style="italic">φ</tspan></text>
<line x1="337.80" y1="93.50" x2="341.70" y2="93.50" stroke="#1a1a1a" stroke-width="0.5"/>
<path d="M384.5 104.6V103.49H386.00V97.43H387.50V76.73H389.00V45.43H390.50V23.72H392.00V17.66H393.50V26.55H395.00V45.73H396.50V62.60H398.00V78.25H399.50V85.31H401.00V93.39H402.50V96.42H404.00V98.95H405.50V100.46H407.00V101.47H408.50V102.48H410.00V103.19H411.50V103.69H413.00V104.00H414.50V104.20H416.00V104.35H417.50V104.45H419.00V104.50H420.50V104.55H422.00V104.6Z" fill="#1f77b4"/>
<rect x="381.50" y="14.50" width="80.00" height="90.00" fill="none" stroke="#222" stroke-width="0.55"/>
<line x1="379.50" y1="104.50" x2="381.50" y2="104.50" stroke="#222" stroke-width="0.55"/>
<text opacity="0.99" x="377.40" y="106.60" font-size="6.50" text-anchor="end" fill="#000">0</text>
<line x1="379.50" y1="87.94" x2="381.50" y2="87.94" stroke="#222" stroke-width="0.55"/>
<text opacity="0.99" x="377.40" y="90.04" font-size="6.50" text-anchor="end" fill="#000" textLength="11.07" lengthAdjust="spacingAndGlyphs">200</text>
<line x1="379.50" y1="71.38" x2="381.50" y2="71.38" stroke="#222" stroke-width="0.55"/>
<text opacity="0.99" x="377.40" y="73.48" font-size="6.50" text-anchor="end" fill="#000" textLength="11.07" lengthAdjust="spacingAndGlyphs">400</text>
<line x1="379.50" y1="54.82" x2="381.50" y2="54.82" stroke="#222" stroke-width="0.55"/>
<text opacity="0.99" x="377.40" y="56.92" font-size="6.50" text-anchor="end" fill="#000" textLength="11.07" lengthAdjust="spacingAndGlyphs">600</text>
<line x1="379.50" y1="38.26" x2="381.50" y2="38.26" stroke="#222" stroke-width="0.55"/>
<text opacity="0.99" x="377.40" y="40.36" font-size="6.50" text-anchor="end" fill="#000" textLength="11.07" lengthAdjust="spacingAndGlyphs">800</text>
<line x1="379.50" y1="21.70" x2="381.50" y2="21.70" stroke="#222" stroke-width="0.55"/>
<text opacity="0.99" x="377.40" y="23.80" font-size="6.50" text-anchor="end" fill="#000" textLength="14.76" lengthAdjust="spacingAndGlyphs">1000</text>
<line x1="403.30" y1="104.50" x2="403.30" y2="106.50" stroke="#222" stroke-width="0.55"/>
<text opacity="0.99" x="403.30" y="112.80" font-size="6.50" text-anchor="middle" fill="#000" textLength="11.07" lengthAdjust="spacingAndGlyphs">100</text>
<line x1="425.50" y1="104.50" x2="425.50" y2="106.50" stroke="#222" stroke-width="0.55"/>
<text opacity="0.99" x="425.50" y="112.80" font-size="6.50" text-anchor="middle" fill="#000" textLength="11.07" lengthAdjust="spacingAndGlyphs">200</text>
<line x1="447.70" y1="104.50" x2="447.70" y2="106.50" stroke="#222" stroke-width="0.55"/>
<text opacity="0.99" x="447.70" y="112.80" font-size="6.50" text-anchor="middle" fill="#000" textLength="11.07" lengthAdjust="spacingAndGlyphs">300</text>
<text opacity="0.99" x="421.75" y="121.00" font-size="6.50" text-anchor="middle" fill="#000" textLength="29.69" lengthAdjust="spacingAndGlyphs">Depth [m]</text>
<text opacity="0.99" x="421.60" y="10.50" font-size="7.80" text-anchor="middle" fill="#000" textLength="49.40" lengthAdjust="spacingAndGlyphs">Iceberg Drafts</text>
<text opacity="0.99" x="380.60" y="11.90" font-size="8.18" text-anchor="end" fill="#000" textLength="9.71" lengthAdjust="spacingAndGlyphs">(c)</text>
<text opacity="0.99" x="242.60" y="59.20" font-size="6.50" text-anchor="middle" fill="#000" textLength="29.69" lengthAdjust="spacingAndGlyphs" transform="rotate(-90 242.60 59.20)">Depth [m]</text>
<text opacity="0.99" x="359.00" y="59.50" font-size="6.50" text-anchor="middle" fill="#000" textLength="17.23" lengthAdjust="spacingAndGlyphs" transform="rotate(-90 359.00 59.50)">Count</text>
<defs><linearGradient id="gF" gradientUnits="userSpaceOnUse" x1="0" y1="143.6" x2="0" y2="225.6">
<stop offset="0.0000" stop-color="#0a2a40"/>
<stop offset="0.0073" stop-color="#0c2a48"/>
<stop offset="0.0146" stop-color="#2a2c7c"/>
<stop offset="0.0244" stop-color="#4a3a98"/>
<stop offset="0.0390" stop-color="#5640a0"/>
<stop offset="0.0829" stop-color="#5a40a0"/>
<stop offset="0.1463" stop-color="#8a5098"/>
<stop offset="0.2439" stop-color="#a85a8c"/>
<stop offset="0.3220" stop-color="#c46a7c"/>
<stop offset="0.4073" stop-color="#dc7066"/>
<stop offset="0.4927" stop-color="#ee7e52"/>
<stop offset="0.5817" stop-color="#f89044"/>
<stop offset="0.6695" stop-color="#f8a840"/>
<stop offset="0.7585" stop-color="#f8c040"/>
<stop offset="0.8476" stop-color="#f4d848"/>
<stop offset="0.9366" stop-color="#ecf054"/>
<stop offset="1.0000" stop-color="#e8f85a"/>
</linearGradient>
<linearGradient id="gWarmV" gradientUnits="userSpaceOnUse" x1="0" y1="148" x2="0" y2="184">
<stop offset="0.0000" stop-color="#a05090" stop-opacity="0"/>
<stop offset="0.1667" stop-color="#b05090" stop-opacity="0.9"/>
<stop offset="0.3333" stop-color="#b8508c" stop-opacity="1"/>
<stop offset="0.5000" stop-color="#c05c84" stop-opacity="0.9"/>
<stop offset="0.6667" stop-color="#cc6878" stop-opacity="0.7"/>
<stop offset="0.8333" stop-color="#e07468" stop-opacity="0.4"/>
<stop offset="1.0000" stop-color="#ee7e52" stop-opacity="0"/>
</linearGradient>
<linearGradient id="gWarmH" gradientUnits="userSpaceOnUse" x1="36" y1="0" x2="110" y2="0"><stop offset="0" stop-color="#fff"/><stop offset="0.62" stop-color="#fff" stop-opacity="0.9"/><stop offset="1" stop-color="#fff" stop-opacity="0"/></linearGradient>
<linearGradient id="gColdV" gradientUnits="userSpaceOnUse" x1="0" y1="149" x2="0" y2="165"><stop offset="0" stop-color="#5a40a0" stop-opacity="1"/><stop offset="0.35" stop-color="#5e42a0" stop-opacity="0.95"/><stop offset="0.6" stop-color="#7248a0" stop-opacity="0.6"/><stop offset="1" stop-color="#9a5494" stop-opacity="0"/></linearGradient>
<linearGradient id="gColdH" gradientUnits="userSpaceOnUse" x1="100" y1="0" x2="330" y2="0"><stop offset="0" stop-color="#fff" stop-opacity="0.6"/><stop offset="0.04" stop-color="#fff"/><stop offset="0.4" stop-color="#fff" stop-opacity="0.7"/><stop offset="1" stop-color="#fff" stop-opacity="0"/></linearGradient>
<mask id="mCold" maskUnits="userSpaceOnUse" x="100" y="140" width="240" height="40"><rect x="100" y="140" width="240" height="40" fill="url(#gColdH)"/></mask>
<mask id="mWarm" maskUnits="userSpaceOnUse" x="36" y="140" width="100" height="60"><rect x="36" y="140" width="100" height="60" fill="url(#gWarmH)"/></mask>
<filter id="bl" x="-5%" y="-5%" width="110%" height="110%" color-interpolation-filters="sRGB"><feTurbulence type="fractalNoise" baseFrequency="0.22 0.12" numOctaves="2" seed="4" result="n"/><feDisplacementMap in="SourceGraphic" in2="n" scale="1.7" xChannelSelector="R" yChannelSelector="G" result="d"/><feGaussianBlur in="d" stdDeviation="0.5"/></filter>
<filter id="bl0" x="-5%" y="-5%" width="110%" height="110%"><feGaussianBlur stdDeviation="0.3"/></filter>
<filter id="bl2" x="-5%" y="-5%" width="110%" height="110%"><feGaussianBlur stdDeviation="0.6"/></filter>
<clipPath id="cF"><rect x="36.6" y="143.6" width="379.6" height="82.7"/></clipPath>
</defs>
<rect x="36.6" y="143.9" width="379.60" height="82.40" fill="url(#gF)"/>
<g clip-path="url(#cF)">
<rect x="36.6" y="148" width="95" height="36" fill="url(#gWarmV)" mask="url(#mWarm)"/>
<rect x="100" y="149" width="235" height="16" fill="url(#gColdV)" mask="url(#mCold)"/>
<path d="M415.5 146.5 L393 161.5 L381 152.5" fill="none" stroke="#6a44a0" stroke-width="2.0" opacity="0.17" stroke-linejoin="round" filter="url(#bl2)"/>
<defs><linearGradient id="gLE" gradientUnits="userSpaceOnUse" x1="0" y1="143.6" x2="0" y2="225.6"><stop offset="0" stop-color="#161428"/><stop offset="0.55" stop-color="#2a1840"/><stop offset="0.8" stop-color="#6a2c70"/><stop offset="1" stop-color="#a84484"/></linearGradient></defs>
<rect x="36.6" y="143.6" width="1.4" height="82.7" fill="url(#gLE)"/>
<rect x="37.9" y="143.6" width="0.6" height="82.7" fill="#1c1626"/>
<rect x="37.9" y="224.85" width="378.3" height="1.45" fill="#343434"/>
<defs>
<linearGradient id="gO1" gradientUnits="userSpaceOnUse" x1="0" y1="143.7" x2="0" y2="175"><stop offset="0.0000" stop-color="#1a2a34"/><stop offset="0.0799" stop-color="#1e2838"/><stop offset="0.1118" stop-color="#2c2848"/><stop offset="0.1629" stop-color="#4a3662"/><stop offset="0.2204" stop-color="#8a6c88"/><stop offset="0.2748" stop-color="#a88a9a"/><stop offset="0.3387" stop-color="#c89ea2"/><stop offset="0.4089" stop-color="#e2b0a8"/><stop offset="0.5048" stop-color="#dcaab0"/><stop offset="0.5847" stop-color="#ccaac6"/><stop offset="1.0000" stop-color="#c4acd4"/></linearGradient>
<linearGradient id="gO2" gradientUnits="userSpaceOnUse" x1="0" y1="143.7" x2="0" y2="175"><stop offset="0.0000" stop-color="#587078"/><stop offset="0.0479" stop-color="#606c7e"/><stop offset="0.0799" stop-color="#78749e"/><stop offset="0.2013" stop-color="#887ea8"/><stop offset="0.2492" stop-color="#a08cb4"/><stop offset="0.3291" stop-color="#b8a0c8"/><stop offset="0.4249" stop-color="#c0aad0"/><stop offset="1.0000" stop-color="#c4aed4"/></linearGradient>
<linearGradient id="gO3" gradientUnits="userSpaceOnUse" x1="0" y1="143.7" x2="0" y2="175"><stop offset="0.0000" stop-color="#7e88a2"/><stop offset="0.0575" stop-color="#9a8abe"/><stop offset="0.2013" stop-color="#a896c8"/><stop offset="0.3610" stop-color="#b8a6d4"/><stop offset="1.0000" stop-color="#c4b0da"/></linearGradient>
<clipPath id="cO"><path d="M33 139 L33 166.5 L40.3 166.5 L42.5 165.5 L45.6 164.5 L48 165 L50 163.5 L51.5 161 L53.5 159 L56.5 159.5 L59.2 160 L61.5 159.5 L63.2 158 L66 157 L69.5 157.5 L72.6 156.5 L75 156 L79 156.5 L82 156.8 L86 156.3 L90 155.8 L95 155 L98.0 153.5 L100 152 L102 150 L103.2 148.5 L103.3 139Z"/></clipPath>
</defs>
<g filter="url(#bl)">
<g clip-path="url(#cO)">
<rect x="32" y="138" width="31" height="50" fill="url(#gO1)"/>
<rect x="62.8" y="138" width="24" height="50" fill="url(#gO2)"/>
<rect x="86.2" y="138" width="18" height="50" fill="url(#gO3)"/>
<path d="M62.8 151.5 L70 151.2 L74 152.5 L72 155 L68 156.5 L62.8 157.5Z" fill="#d8a8b0" opacity="0.5"/>
<rect x="39.0" y="153.5" width="1.2" height="10" fill="#c4acd4" opacity="0.6"/>
<rect x="43.6" y="153.5" width="1.2" height="10" fill="#c4acd4" opacity="0.6"/>
<rect x="47.0" y="153.5" width="1.0" height="10" fill="#c4acd4" opacity="0.45"/>
<rect x="50.5" y="153.5" width="1.0" height="10" fill="#c4acd4" opacity="0.45"/>
<rect x="54.0" y="153.5" width="1.0" height="10" fill="#c4acd4" opacity="0.4"/>
<rect x="57.6" y="153.5" width="1.1" height="10" fill="#c4acd4" opacity="0.6"/>
<rect x="61.2" y="153.5" width="1.1" height="10" fill="#c4acd4" opacity="0.6"/>
<rect x="99.8" y="139" width="1.6" height="13" fill="#d6c8e6" opacity="0.7"/>
</g>
<path d="M40.3 166.5 L42.5 165.5 L45.6 164.5 L48 165 L50 163.5 L51.5 161 L53.5 159 L56.5 159.5 L59.2 160 L61.5 159.5 L63.2 158 L66 157 L69.5 157.5 L72.6 156.5 L75 156 L79 156.5 L82 156.8 L86 156.3 L90 155.8 L95 155 L98.0 153.5 L100 152 L102 150 L103.2 148.5" fill="none" stroke="#e2d4ea" stroke-width="0.9" opacity="0.7" stroke-linejoin="round"/>
</g>
<g filter="url(#bl0)">
<path d="M41.80 161 L42.60 164.5 L43.35 171.00 Q44.10 172.40 44.85 171.00 L45.60 164.5 L46.40 161Z" fill="#ccb6d8" opacity="0.9"/>
<path d="M55.65 157 L56.45 160.5 L57.12 165.40 Q57.80 166.80 58.47 165.40 L59.15 160.5 L59.95 157Z" fill="#ccb6d8" opacity="0.9"/>
<path d="M59.38 157 L60.18 160.5 L60.89 166.40 Q61.60 167.80 62.31 166.40 L63.02 160.5 L63.82 157Z" fill="#ccb6d8" opacity="0.9"/>
<path d="M68.95 155 L69.75 158.5 L70.42 172.70 Q71.10 174.10 71.77 172.70 L72.45 158.5 L73.25 155Z" fill="#ccb6d8" opacity="0.9"/>
<path d="M76.59 154 L77.39 157.5 L77.82 186.50 Q78.25 187.90 78.68 186.50 L79.11 157.5 L79.91 154Z" fill="#ccb6d8" opacity="0.9"/>
<path d="M94.55 153 L95.35 156.5 L96.03 160.00 Q96.70 161.40 97.38 160.00 L98.05 156.5 L98.85 153Z" fill="#ccb6d8" opacity="0.9"/>
<rect x="38.3" y="160" width="0.9" height="19" fill="#c8b0d8" opacity="0.85"/>
</g>
</g>
<rect x="36.30" y="139.40" width="380.20" height="90.60" fill="none" stroke="#222" stroke-width="0.55"/>
<line x1="34.30" y1="143.60" x2="36.30" y2="143.60" stroke="#222" stroke-width="0.55"/>
<text opacity="0.99" x="32.00" y="145.70" font-size="6.50" text-anchor="end" fill="#000">0</text>
<line x1="34.30" y1="157.38" x2="36.30" y2="157.38" stroke="#222" stroke-width="0.55"/>
<text opacity="0.99" x="32.00" y="159.48" font-size="6.50" text-anchor="end" fill="#000" textLength="15.93" lengthAdjust="spacingAndGlyphs">−100</text>
<line x1="34.30" y1="171.16" x2="36.30" y2="171.16" stroke="#222" stroke-width="0.55"/>
<text opacity="0.99" x="32.00" y="173.26" font-size="6.50" text-anchor="end" fill="#000" textLength="15.93" lengthAdjust="spacingAndGlyphs">−200</text>
<line x1="34.30" y1="184.94" x2="36.30" y2="184.94" stroke="#222" stroke-width="0.55"/>
<text opacity="0.99" x="32.00" y="187.04" font-size="6.50" text-anchor="end" fill="#000" textLength="15.93" lengthAdjust="spacingAndGlyphs">−300</text>
<line x1="34.30" y1="198.72" x2="36.30" y2="198.72" stroke="#222" stroke-width="0.55"/>
<text opacity="0.99" x="32.00" y="200.82" font-size="6.50" text-anchor="end" fill="#000" textLength="15.93" lengthAdjust="spacingAndGlyphs">−400</text>
<line x1="34.30" y1="212.50" x2="36.30" y2="212.50" stroke="#222" stroke-width="0.55"/>
<text opacity="0.99" x="32.00" y="214.60" font-size="6.50" text-anchor="end" fill="#000" textLength="15.93" lengthAdjust="spacingAndGlyphs">−500</text>
<line x1="34.30" y1="226.28" x2="36.30" y2="226.28" stroke="#222" stroke-width="0.55"/>
<text opacity="0.99" x="32.00" y="228.38" font-size="6.50" text-anchor="end" fill="#000" textLength="15.93" lengthAdjust="spacingAndGlyphs">−600</text>
<line x1="83.60" y1="230.00" x2="83.60" y2="232.00" stroke="#222" stroke-width="0.55"/>
<text opacity="0.99" x="83.60" y="238.60" font-size="6.50" text-anchor="middle" fill="#000" textLength="7.38" lengthAdjust="spacingAndGlyphs">10</text>
<line x1="131.20" y1="230.00" x2="131.20" y2="232.00" stroke="#222" stroke-width="0.55"/>
<text opacity="0.99" x="131.20" y="238.60" font-size="6.50" text-anchor="middle" fill="#000" textLength="7.38" lengthAdjust="spacingAndGlyphs">20</text>
<line x1="178.80" y1="230.00" x2="178.80" y2="232.00" stroke="#222" stroke-width="0.55"/>
<text opacity="0.99" x="178.80" y="238.60" font-size="6.50" text-anchor="middle" fill="#000" textLength="7.38" lengthAdjust="spacingAndGlyphs">30</text>
<line x1="226.40" y1="230.00" x2="226.40" y2="232.00" stroke="#222" stroke-width="0.55"/>
<text opacity="0.99" x="226.40" y="238.60" font-size="6.50" text-anchor="middle" fill="#000" textLength="7.38" lengthAdjust="spacingAndGlyphs">40</text>
<line x1="274.00" y1="230.00" x2="274.00" y2="232.00" stroke="#222" stroke-width="0.55"/>
<text opacity="0.99" x="274.00" y="238.60" font-size="6.50" text-anchor="middle" fill="#000" textLength="7.38" lengthAdjust="spacingAndGlyphs">50</text>
<line x1="321.60" y1="230.00" x2="321.60" y2="232.00" stroke="#222" stroke-width="0.55"/>
<text opacity="0.99" x="321.60" y="238.60" font-size="6.50" text-anchor="middle" fill="#000" textLength="7.38" lengthAdjust="spacingAndGlyphs">60</text>
<line x1="369.20" y1="230.00" x2="369.20" y2="232.00" stroke="#222" stroke-width="0.55"/>
<text opacity="0.99" x="369.20" y="238.60" font-size="6.50" text-anchor="middle" fill="#000" textLength="7.38" lengthAdjust="spacingAndGlyphs">70</text>
<text opacity="0.99" x="226.80" y="246.40" font-size="6.50" text-anchor="middle" fill="#000" textLength="46.87" lengthAdjust="spacingAndGlyphs">Along fjord [km]</text>
<text opacity="0.99" x="226.00" y="136.00" font-size="7.80" text-anchor="middle" fill="#000" textLength="162.38" lengthAdjust="spacingAndGlyphs">Width Averaged Temperature After 200.0 Days</text>
<text opacity="0.99" x="36.20" y="137.60" font-size="8.18" text-anchor="end" fill="#000" textLength="10.33" lengthAdjust="spacingAndGlyphs">(d)</text>
<text opacity="0.99" x="12.40" y="184.50" font-size="6.50" text-anchor="middle" fill="#000" textLength="29.69" lengthAdjust="spacingAndGlyphs" transform="rotate(-90 12.40 184.50)">Depth [m]</text>
<rect x="422.4" y="143.90" width="4.00" height="21.50" fill="#9b9b9b"/>
<rect x="422.4" y="165.40" width="4.00" height="21.50" fill="#d5d5d5"/>
<rect x="422.4" y="186.90" width="4.00" height="21.50" fill="#ececec"/>
<rect x="422.4" y="208.40" width="4.00" height="21.30" fill="#fafafa"/>
<path d="M422.4 143.9L424.40 139.6L426.4 143.9Z" fill="#8c8c8c"/>
<path d="M422.4 143.9L424.40 139.6L426.4 143.9V229.7H422.4Z" fill="none" stroke="#222" stroke-width="0.55"/>
<line x1="426.40" y1="143.90" x2="428.40" y2="143.90" stroke="#222" stroke-width="0.55"/>
<text opacity="0.99" x="430.90" y="146.00" font-size="6.50" text-anchor="start" fill="#000" textLength="12.91" lengthAdjust="spacingAndGlyphs">0.80</text>
<line x1="426.40" y1="165.40" x2="428.40" y2="165.40" stroke="#222" stroke-width="0.55"/>
<text opacity="0.99" x="430.90" y="167.50" font-size="6.50" text-anchor="start" fill="#000" textLength="12.91" lengthAdjust="spacingAndGlyphs">0.40</text>
<line x1="426.40" y1="186.90" x2="428.40" y2="186.90" stroke="#222" stroke-width="0.55"/>
<text opacity="0.99" x="430.90" y="189.00" font-size="6.50" text-anchor="start" fill="#000" textLength="12.91" lengthAdjust="spacingAndGlyphs">0.20</text>
<line x1="426.40" y1="208.40" x2="428.40" y2="208.40" stroke="#222" stroke-width="0.55"/>
<text opacity="0.99" x="430.90" y="210.50" font-size="6.50" text-anchor="start" fill="#000" textLength="12.91" lengthAdjust="spacingAndGlyphs">0.10</text>
<line x1="426.40" y1="229.70" x2="428.40" y2="229.70" stroke="#222" stroke-width="0.55"/>
<text opacity="0.99" x="430.90" y="231.80" font-size="6.50" text-anchor="start" fill="#000" textLength="12.91" lengthAdjust="spacingAndGlyphs">0.05</text>
<text opacity="0.99" x="450.70" y="186.00" font-size="6.50" text-anchor="middle" fill="#000" textLength="60.00" lengthAdjust="spacingAndGlyphs" transform="rotate(-90 450.70 186.00)">Width averaged <tspan font-style="italic">φ</tspan> [ ]</text>
<path d="M457.5 143.9L459.70 139.2L461.9 143.9V225.7L459.70 229.9L457.5 225.7Z" fill="url(#gTemp)" stroke="#222" stroke-width="0.55"/>
<line x1="461.90" y1="143.90" x2="463.90" y2="143.90" stroke="#222" stroke-width="0.55"/>
<text opacity="0.99" x="465.90" y="146.00" font-size="6.50" text-anchor="start" fill="#000" textLength="16.60" lengthAdjust="spacingAndGlyphs">3.000</text>
<line x1="461.90" y1="157.53" x2="463.90" y2="157.53" stroke="#222" stroke-width="0.55"/>
<text opacity="0.99" x="465.90" y="159.63" font-size="6.50" text-anchor="start" fill="#000" textLength="16.60" lengthAdjust="spacingAndGlyphs">2.417</text>
<line x1="461.90" y1="171.17" x2="463.90" y2="171.17" stroke="#222" stroke-width="0.55"/>
<text opacity="0.99" x="465.90" y="173.27" font-size="6.50" text-anchor="start" fill="#000" textLength="16.60" lengthAdjust="spacingAndGlyphs">1.833</text>
<line x1="461.90" y1="184.80" x2="463.90" y2="184.80" stroke="#222" stroke-width="0.55"/>
<text opacity="0.99" x="465.90" y="186.90" font-size="6.50" text-anchor="start" fill="#000" textLength="16.60" lengthAdjust="spacingAndGlyphs">1.250</text>
<line x1="461.90" y1="198.43" x2="463.90" y2="198.43" stroke="#222" stroke-width="0.55"/>
<text opacity="0.99" x="465.90" y="200.53" font-size="6.50" text-anchor="start" fill="#000" textLength="16.60" lengthAdjust="spacingAndGlyphs">0.667</text>
<line x1="461.90" y1="212.07" x2="463.90" y2="212.07" stroke="#222" stroke-width="0.55"/>
<text opacity="0.99" x="465.90" y="214.17" font-size="6.50" text-anchor="start" fill="#000" textLength="16.60" lengthAdjust="spacingAndGlyphs">0.083</text>
<line x1="461.90" y1="225.70" x2="463.90" y2="225.70" stroke="#222" stroke-width="0.55"/>
<text opacity="0.99" x="465.90" y="227.80" font-size="6.50" text-anchor="start" fill="#000" textLength="21.46" lengthAdjust="spacingAndGlyphs">−0.500</text>
<text opacity="0.99" x="493.90" y="184.00" font-size="6.50" text-anchor="middle" fill="#000" textLength="47.16" lengthAdjust="spacingAndGlyphs" transform="rotate(-90 493.90 184.00)">Temperature [C]</text>
</svg></body></html>
